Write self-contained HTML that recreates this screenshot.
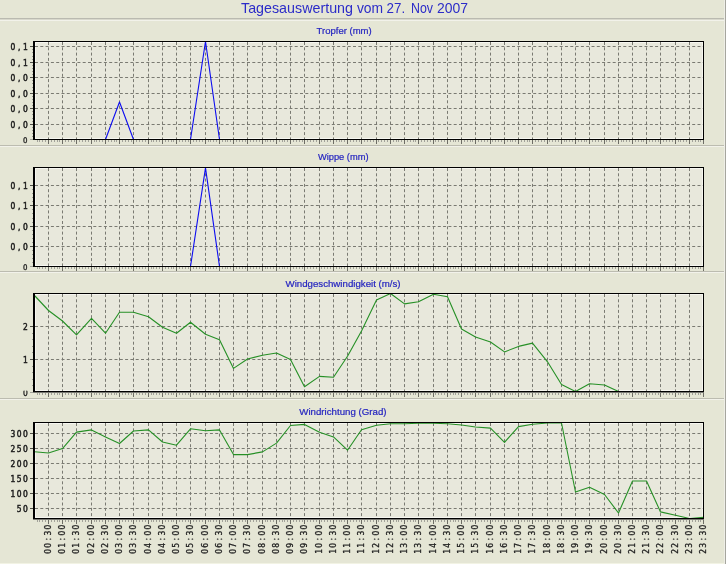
<!DOCTYPE html>
<html><head><meta charset="utf-8"><style>
html,body{margin:0;padding:0;background:#e5e6d5;}
svg{display:block;}
</style></head><body>
<svg width="726" height="564" viewBox="0 0 726 564" shape-rendering="crispEdges">
<defs>
</defs>
<rect x="0" y="0" width="726" height="564" fill="#e5e6d5"/>
<text y="12.9" font-family="'Liberation Sans', Arial, sans-serif" font-size="14.6" fill="#2c2cc8"><tspan x="241" textLength="112" lengthAdjust="spacingAndGlyphs">Tagesauswertung</tspan> <tspan x="356.9" textLength="26.2" lengthAdjust="spacingAndGlyphs">vom</tspan> <tspan x="386.6" textLength="18.6" lengthAdjust="spacingAndGlyphs">27.</tspan> <tspan x="411" textLength="22" lengthAdjust="spacingAndGlyphs">Nov</tspan> <tspan x="437" textLength="31" lengthAdjust="spacingAndGlyphs">2007</tspan></text>
<rect x="0" y="18" width="724" height="1" fill="#babab0"/>
<rect x="0" y="19" width="724" height="1" fill="#d8d8cc"/>
<rect x="0" y="20" width="724" height="1" fill="#f2f2ea"/>
<rect x="0" y="563" width="724" height="1" fill="#f2f3e4"/>
<rect x="724" y="0" width="1" height="564" fill="#eeeee6"/>
<rect x="725" y="0" width="1" height="564" fill="#a6a69e"/>
<rect x="35" y="42" width="668" height="97" fill="#e8e8dc"/>
<rect x="35" y="42" width="668" height="1" fill="#f6f6f0"/>
<rect x="35" y="42" width="1" height="97" fill="#f6f6f0"/>
<rect x="702" y="42" width="1" height="97" fill="#f6f6f0"/>
<rect x="35" y="138" width="668" height="1" fill="#f6f6f0"/>
<text x="316.6" y="33.8" textLength="55.1" lengthAdjust="spacingAndGlyphs" font-family="'Liberation Sans', Arial, sans-serif" font-size="9.5" fill="#2424c0" stroke="#2424c0" stroke-width="0.2">Tropfer (mm)</text>
<path d="M48.5 42V139M62.5 42V139M76.5 42V139M91.5 42V139M105.5 42V139M119.5 42V139M133.5 42V139M148.5 42V139M162.5 42V139M176.5 42V139M190.5 42V139M205.5 42V139M219.5 42V139M233.5 42V139M247.5 42V139M262.5 42V139M276.5 42V139M290.5 42V139M304.5 42V139M319.5 42V139M333.5 42V139M347.5 42V139M361.5 42V139M376.5 42V139M390.5 42V139M404.5 42V139M418.5 42V139M433.5 42V139M447.5 42V139M461.5 42V139M475.5 42V139M490.5 42V139M504.5 42V139M518.5 42V139M532.5 42V139M547.5 42V139M561.5 42V139M575.5 42V139M589.5 42V139M604.5 42V139M618.5 42V139M632.5 42V139M646.5 42V139M660.5 42V139M675.5 42V139M689.5 42V139M35 46.5H703M35 62.5H703M35 77.5H703M35 93.5H703M35 108.5H703M35 124.5H703" stroke="#7a7a72" stroke-width="1" stroke-dasharray="3,2.3" fill="none" shape-rendering="auto"/>
<rect x="30" y="46" width="3" height="1" fill="#505048"/>
<text x="12.90 19.10 25.30" y="49.90" text-anchor="middle" font-family="'DejaVu Sans Condensed', 'DejaVu Sans', sans-serif" font-size="8.4" fill="#1c1c1c" stroke="#1c1c1c" stroke-width="0.45" >0,1</text>
<rect x="30" y="62" width="3" height="1" fill="#505048"/>
<text x="12.90 19.10 25.30" y="65.90" text-anchor="middle" font-family="'DejaVu Sans Condensed', 'DejaVu Sans', sans-serif" font-size="8.4" fill="#1c1c1c" stroke="#1c1c1c" stroke-width="0.45" >0,1</text>
<rect x="30" y="77" width="3" height="1" fill="#505048"/>
<text x="12.90 19.10 25.30" y="80.90" text-anchor="middle" font-family="'DejaVu Sans Condensed', 'DejaVu Sans', sans-serif" font-size="8.4" fill="#1c1c1c" stroke="#1c1c1c" stroke-width="0.45" >0,0</text>
<rect x="30" y="93" width="3" height="1" fill="#505048"/>
<text x="12.90 19.10 25.30" y="96.90" text-anchor="middle" font-family="'DejaVu Sans Condensed', 'DejaVu Sans', sans-serif" font-size="8.4" fill="#1c1c1c" stroke="#1c1c1c" stroke-width="0.45" >0,0</text>
<rect x="30" y="108" width="3" height="1" fill="#505048"/>
<text x="12.90 19.10 25.30" y="111.90" text-anchor="middle" font-family="'DejaVu Sans Condensed', 'DejaVu Sans', sans-serif" font-size="8.4" fill="#1c1c1c" stroke="#1c1c1c" stroke-width="0.45" >0,0</text>
<rect x="30" y="124" width="3" height="1" fill="#505048"/>
<text x="12.90 19.10 25.30" y="127.90" text-anchor="middle" font-family="'DejaVu Sans Condensed', 'DejaVu Sans', sans-serif" font-size="8.4" fill="#1c1c1c" stroke="#1c1c1c" stroke-width="0.45" >0,0</text>
<rect x="30" y="139" width="3" height="1" fill="#a0a098"/>
<text x="25.30" y="142.80" text-anchor="middle" font-family="'DejaVu Sans Condensed', 'DejaVu Sans', sans-serif" font-size="7.8" fill="#222222" stroke="#222222" stroke-width="0.32" >0</text>
<rect x="32" y="49" width="1" height="1" fill="#9c9c94"/>
<rect x="32" y="52" width="1" height="1" fill="#9c9c94"/>
<rect x="32" y="56" width="1" height="1" fill="#9c9c94"/>
<rect x="32" y="59" width="1" height="1" fill="#9c9c94"/>
<rect x="32" y="65" width="1" height="1" fill="#9c9c94"/>
<rect x="32" y="68" width="1" height="1" fill="#9c9c94"/>
<rect x="32" y="71" width="1" height="1" fill="#9c9c94"/>
<rect x="32" y="74" width="1" height="1" fill="#9c9c94"/>
<rect x="32" y="80" width="1" height="1" fill="#9c9c94"/>
<rect x="32" y="83" width="1" height="1" fill="#9c9c94"/>
<rect x="32" y="87" width="1" height="1" fill="#9c9c94"/>
<rect x="32" y="90" width="1" height="1" fill="#9c9c94"/>
<rect x="32" y="96" width="1" height="1" fill="#9c9c94"/>
<rect x="32" y="99" width="1" height="1" fill="#9c9c94"/>
<rect x="32" y="102" width="1" height="1" fill="#9c9c94"/>
<rect x="32" y="105" width="1" height="1" fill="#9c9c94"/>
<rect x="32" y="111" width="1" height="1" fill="#9c9c94"/>
<rect x="32" y="114" width="1" height="1" fill="#9c9c94"/>
<rect x="32" y="118" width="1" height="1" fill="#9c9c94"/>
<rect x="32" y="121" width="1" height="1" fill="#9c9c94"/>
<rect x="32" y="127" width="1" height="1" fill="#9c9c94"/>
<rect x="32" y="130" width="1" height="1" fill="#9c9c94"/>
<rect x="32" y="133" width="1" height="1" fill="#9c9c94"/>
<rect x="32" y="136" width="1" height="1" fill="#9c9c94"/>
<rect x="37" y="140" width="1" height="2" fill="#a2a29a"/>
<rect x="39" y="140" width="1" height="2" fill="#a2a29a"/>
<rect x="42" y="140" width="1" height="2" fill="#a2a29a"/>
<rect x="45" y="140" width="1" height="2" fill="#a2a29a"/>
<rect x="48" y="140" width="1" height="4" fill="#6e6e66"/>
<rect x="51" y="140" width="1" height="2" fill="#a2a29a"/>
<rect x="54" y="140" width="1" height="2" fill="#a2a29a"/>
<rect x="57" y="140" width="1" height="2" fill="#a2a29a"/>
<rect x="59" y="140" width="1" height="2" fill="#a2a29a"/>
<rect x="62" y="140" width="1" height="4" fill="#6e6e66"/>
<rect x="65" y="140" width="1" height="2" fill="#a2a29a"/>
<rect x="68" y="140" width="1" height="2" fill="#a2a29a"/>
<rect x="71" y="140" width="1" height="2" fill="#a2a29a"/>
<rect x="74" y="140" width="1" height="2" fill="#a2a29a"/>
<rect x="76" y="140" width="1" height="4" fill="#6e6e66"/>
<rect x="79" y="140" width="1" height="2" fill="#a2a29a"/>
<rect x="82" y="140" width="1" height="2" fill="#a2a29a"/>
<rect x="85" y="140" width="1" height="2" fill="#a2a29a"/>
<rect x="88" y="140" width="1" height="2" fill="#a2a29a"/>
<rect x="91" y="140" width="1" height="4" fill="#6e6e66"/>
<rect x="94" y="140" width="1" height="2" fill="#a2a29a"/>
<rect x="96" y="140" width="1" height="2" fill="#a2a29a"/>
<rect x="99" y="140" width="1" height="2" fill="#a2a29a"/>
<rect x="102" y="140" width="1" height="2" fill="#a2a29a"/>
<rect x="105" y="140" width="1" height="4" fill="#6e6e66"/>
<rect x="108" y="140" width="1" height="2" fill="#a2a29a"/>
<rect x="111" y="140" width="1" height="2" fill="#a2a29a"/>
<rect x="114" y="140" width="1" height="2" fill="#a2a29a"/>
<rect x="116" y="140" width="1" height="2" fill="#a2a29a"/>
<rect x="119" y="140" width="1" height="4" fill="#6e6e66"/>
<rect x="122" y="140" width="1" height="2" fill="#a2a29a"/>
<rect x="125" y="140" width="1" height="2" fill="#a2a29a"/>
<rect x="128" y="140" width="1" height="2" fill="#a2a29a"/>
<rect x="131" y="140" width="1" height="2" fill="#a2a29a"/>
<rect x="133" y="140" width="1" height="4" fill="#6e6e66"/>
<rect x="136" y="140" width="1" height="2" fill="#a2a29a"/>
<rect x="139" y="140" width="1" height="2" fill="#a2a29a"/>
<rect x="142" y="140" width="1" height="2" fill="#a2a29a"/>
<rect x="145" y="140" width="1" height="2" fill="#a2a29a"/>
<rect x="148" y="140" width="1" height="4" fill="#6e6e66"/>
<rect x="151" y="140" width="1" height="2" fill="#a2a29a"/>
<rect x="153" y="140" width="1" height="2" fill="#a2a29a"/>
<rect x="156" y="140" width="1" height="2" fill="#a2a29a"/>
<rect x="159" y="140" width="1" height="2" fill="#a2a29a"/>
<rect x="162" y="140" width="1" height="4" fill="#6e6e66"/>
<rect x="165" y="140" width="1" height="2" fill="#a2a29a"/>
<rect x="168" y="140" width="1" height="2" fill="#a2a29a"/>
<rect x="171" y="140" width="1" height="2" fill="#a2a29a"/>
<rect x="173" y="140" width="1" height="2" fill="#a2a29a"/>
<rect x="176" y="140" width="1" height="4" fill="#6e6e66"/>
<rect x="179" y="140" width="1" height="2" fill="#a2a29a"/>
<rect x="182" y="140" width="1" height="2" fill="#a2a29a"/>
<rect x="185" y="140" width="1" height="2" fill="#a2a29a"/>
<rect x="188" y="140" width="1" height="2" fill="#a2a29a"/>
<rect x="190" y="140" width="1" height="4" fill="#6e6e66"/>
<rect x="193" y="140" width="1" height="2" fill="#a2a29a"/>
<rect x="196" y="140" width="1" height="2" fill="#a2a29a"/>
<rect x="199" y="140" width="1" height="2" fill="#a2a29a"/>
<rect x="202" y="140" width="1" height="2" fill="#a2a29a"/>
<rect x="205" y="140" width="1" height="4" fill="#6e6e66"/>
<rect x="208" y="140" width="1" height="2" fill="#a2a29a"/>
<rect x="210" y="140" width="1" height="2" fill="#a2a29a"/>
<rect x="213" y="140" width="1" height="2" fill="#a2a29a"/>
<rect x="216" y="140" width="1" height="2" fill="#a2a29a"/>
<rect x="219" y="140" width="1" height="4" fill="#6e6e66"/>
<rect x="222" y="140" width="1" height="2" fill="#a2a29a"/>
<rect x="225" y="140" width="1" height="2" fill="#a2a29a"/>
<rect x="227" y="140" width="1" height="2" fill="#a2a29a"/>
<rect x="230" y="140" width="1" height="2" fill="#a2a29a"/>
<rect x="233" y="140" width="1" height="4" fill="#6e6e66"/>
<rect x="236" y="140" width="1" height="2" fill="#a2a29a"/>
<rect x="239" y="140" width="1" height="2" fill="#a2a29a"/>
<rect x="242" y="140" width="1" height="2" fill="#a2a29a"/>
<rect x="245" y="140" width="1" height="2" fill="#a2a29a"/>
<rect x="247" y="140" width="1" height="4" fill="#6e6e66"/>
<rect x="250" y="140" width="1" height="2" fill="#a2a29a"/>
<rect x="253" y="140" width="1" height="2" fill="#a2a29a"/>
<rect x="256" y="140" width="1" height="2" fill="#a2a29a"/>
<rect x="259" y="140" width="1" height="2" fill="#a2a29a"/>
<rect x="262" y="140" width="1" height="4" fill="#6e6e66"/>
<rect x="265" y="140" width="1" height="2" fill="#a2a29a"/>
<rect x="267" y="140" width="1" height="2" fill="#a2a29a"/>
<rect x="270" y="140" width="1" height="2" fill="#a2a29a"/>
<rect x="273" y="140" width="1" height="2" fill="#a2a29a"/>
<rect x="276" y="140" width="1" height="4" fill="#6e6e66"/>
<rect x="279" y="140" width="1" height="2" fill="#a2a29a"/>
<rect x="282" y="140" width="1" height="2" fill="#a2a29a"/>
<rect x="284" y="140" width="1" height="2" fill="#a2a29a"/>
<rect x="287" y="140" width="1" height="2" fill="#a2a29a"/>
<rect x="290" y="140" width="1" height="4" fill="#6e6e66"/>
<rect x="293" y="140" width="1" height="2" fill="#a2a29a"/>
<rect x="296" y="140" width="1" height="2" fill="#a2a29a"/>
<rect x="299" y="140" width="1" height="2" fill="#a2a29a"/>
<rect x="302" y="140" width="1" height="2" fill="#a2a29a"/>
<rect x="304" y="140" width="1" height="4" fill="#6e6e66"/>
<rect x="307" y="140" width="1" height="2" fill="#a2a29a"/>
<rect x="310" y="140" width="1" height="2" fill="#a2a29a"/>
<rect x="313" y="140" width="1" height="2" fill="#a2a29a"/>
<rect x="316" y="140" width="1" height="2" fill="#a2a29a"/>
<rect x="319" y="140" width="1" height="4" fill="#6e6e66"/>
<rect x="321" y="140" width="1" height="2" fill="#a2a29a"/>
<rect x="324" y="140" width="1" height="2" fill="#a2a29a"/>
<rect x="327" y="140" width="1" height="2" fill="#a2a29a"/>
<rect x="330" y="140" width="1" height="2" fill="#a2a29a"/>
<rect x="333" y="140" width="1" height="4" fill="#6e6e66"/>
<rect x="336" y="140" width="1" height="2" fill="#a2a29a"/>
<rect x="339" y="140" width="1" height="2" fill="#a2a29a"/>
<rect x="341" y="140" width="1" height="2" fill="#a2a29a"/>
<rect x="344" y="140" width="1" height="2" fill="#a2a29a"/>
<rect x="347" y="140" width="1" height="4" fill="#6e6e66"/>
<rect x="350" y="140" width="1" height="2" fill="#a2a29a"/>
<rect x="353" y="140" width="1" height="2" fill="#a2a29a"/>
<rect x="356" y="140" width="1" height="2" fill="#a2a29a"/>
<rect x="359" y="140" width="1" height="2" fill="#a2a29a"/>
<rect x="361" y="140" width="1" height="4" fill="#6e6e66"/>
<rect x="364" y="140" width="1" height="2" fill="#a2a29a"/>
<rect x="367" y="140" width="1" height="2" fill="#a2a29a"/>
<rect x="370" y="140" width="1" height="2" fill="#a2a29a"/>
<rect x="373" y="140" width="1" height="2" fill="#a2a29a"/>
<rect x="376" y="140" width="1" height="4" fill="#6e6e66"/>
<rect x="378" y="140" width="1" height="2" fill="#a2a29a"/>
<rect x="381" y="140" width="1" height="2" fill="#a2a29a"/>
<rect x="384" y="140" width="1" height="2" fill="#a2a29a"/>
<rect x="387" y="140" width="1" height="2" fill="#a2a29a"/>
<rect x="390" y="140" width="1" height="4" fill="#6e6e66"/>
<rect x="393" y="140" width="1" height="2" fill="#a2a29a"/>
<rect x="396" y="140" width="1" height="2" fill="#a2a29a"/>
<rect x="398" y="140" width="1" height="2" fill="#a2a29a"/>
<rect x="401" y="140" width="1" height="2" fill="#a2a29a"/>
<rect x="404" y="140" width="1" height="4" fill="#6e6e66"/>
<rect x="407" y="140" width="1" height="2" fill="#a2a29a"/>
<rect x="410" y="140" width="1" height="2" fill="#a2a29a"/>
<rect x="413" y="140" width="1" height="2" fill="#a2a29a"/>
<rect x="415" y="140" width="1" height="2" fill="#a2a29a"/>
<rect x="418" y="140" width="1" height="4" fill="#6e6e66"/>
<rect x="421" y="140" width="1" height="2" fill="#a2a29a"/>
<rect x="424" y="140" width="1" height="2" fill="#a2a29a"/>
<rect x="427" y="140" width="1" height="2" fill="#a2a29a"/>
<rect x="430" y="140" width="1" height="2" fill="#a2a29a"/>
<rect x="433" y="140" width="1" height="4" fill="#6e6e66"/>
<rect x="435" y="140" width="1" height="2" fill="#a2a29a"/>
<rect x="438" y="140" width="1" height="2" fill="#a2a29a"/>
<rect x="441" y="140" width="1" height="2" fill="#a2a29a"/>
<rect x="444" y="140" width="1" height="2" fill="#a2a29a"/>
<rect x="447" y="140" width="1" height="4" fill="#6e6e66"/>
<rect x="450" y="140" width="1" height="2" fill="#a2a29a"/>
<rect x="453" y="140" width="1" height="2" fill="#a2a29a"/>
<rect x="455" y="140" width="1" height="2" fill="#a2a29a"/>
<rect x="458" y="140" width="1" height="2" fill="#a2a29a"/>
<rect x="461" y="140" width="1" height="4" fill="#6e6e66"/>
<rect x="464" y="140" width="1" height="2" fill="#a2a29a"/>
<rect x="467" y="140" width="1" height="2" fill="#a2a29a"/>
<rect x="470" y="140" width="1" height="2" fill="#a2a29a"/>
<rect x="472" y="140" width="1" height="2" fill="#a2a29a"/>
<rect x="475" y="140" width="1" height="4" fill="#6e6e66"/>
<rect x="478" y="140" width="1" height="2" fill="#a2a29a"/>
<rect x="481" y="140" width="1" height="2" fill="#a2a29a"/>
<rect x="484" y="140" width="1" height="2" fill="#a2a29a"/>
<rect x="487" y="140" width="1" height="2" fill="#a2a29a"/>
<rect x="490" y="140" width="1" height="4" fill="#6e6e66"/>
<rect x="492" y="140" width="1" height="2" fill="#a2a29a"/>
<rect x="495" y="140" width="1" height="2" fill="#a2a29a"/>
<rect x="498" y="140" width="1" height="2" fill="#a2a29a"/>
<rect x="501" y="140" width="1" height="2" fill="#a2a29a"/>
<rect x="504" y="140" width="1" height="4" fill="#6e6e66"/>
<rect x="507" y="140" width="1" height="2" fill="#a2a29a"/>
<rect x="510" y="140" width="1" height="2" fill="#a2a29a"/>
<rect x="512" y="140" width="1" height="2" fill="#a2a29a"/>
<rect x="515" y="140" width="1" height="2" fill="#a2a29a"/>
<rect x="518" y="140" width="1" height="4" fill="#6e6e66"/>
<rect x="521" y="140" width="1" height="2" fill="#a2a29a"/>
<rect x="524" y="140" width="1" height="2" fill="#a2a29a"/>
<rect x="527" y="140" width="1" height="2" fill="#a2a29a"/>
<rect x="529" y="140" width="1" height="2" fill="#a2a29a"/>
<rect x="532" y="140" width="1" height="4" fill="#6e6e66"/>
<rect x="535" y="140" width="1" height="2" fill="#a2a29a"/>
<rect x="538" y="140" width="1" height="2" fill="#a2a29a"/>
<rect x="541" y="140" width="1" height="2" fill="#a2a29a"/>
<rect x="544" y="140" width="1" height="2" fill="#a2a29a"/>
<rect x="547" y="140" width="1" height="4" fill="#6e6e66"/>
<rect x="549" y="140" width="1" height="2" fill="#a2a29a"/>
<rect x="552" y="140" width="1" height="2" fill="#a2a29a"/>
<rect x="555" y="140" width="1" height="2" fill="#a2a29a"/>
<rect x="558" y="140" width="1" height="2" fill="#a2a29a"/>
<rect x="561" y="140" width="1" height="4" fill="#6e6e66"/>
<rect x="564" y="140" width="1" height="2" fill="#a2a29a"/>
<rect x="566" y="140" width="1" height="2" fill="#a2a29a"/>
<rect x="569" y="140" width="1" height="2" fill="#a2a29a"/>
<rect x="572" y="140" width="1" height="2" fill="#a2a29a"/>
<rect x="575" y="140" width="1" height="4" fill="#6e6e66"/>
<rect x="578" y="140" width="1" height="2" fill="#a2a29a"/>
<rect x="581" y="140" width="1" height="2" fill="#a2a29a"/>
<rect x="584" y="140" width="1" height="2" fill="#a2a29a"/>
<rect x="586" y="140" width="1" height="2" fill="#a2a29a"/>
<rect x="589" y="140" width="1" height="4" fill="#6e6e66"/>
<rect x="592" y="140" width="1" height="2" fill="#a2a29a"/>
<rect x="595" y="140" width="1" height="2" fill="#a2a29a"/>
<rect x="598" y="140" width="1" height="2" fill="#a2a29a"/>
<rect x="601" y="140" width="1" height="2" fill="#a2a29a"/>
<rect x="604" y="140" width="1" height="4" fill="#6e6e66"/>
<rect x="606" y="140" width="1" height="2" fill="#a2a29a"/>
<rect x="609" y="140" width="1" height="2" fill="#a2a29a"/>
<rect x="612" y="140" width="1" height="2" fill="#a2a29a"/>
<rect x="615" y="140" width="1" height="2" fill="#a2a29a"/>
<rect x="618" y="140" width="1" height="4" fill="#6e6e66"/>
<rect x="621" y="140" width="1" height="2" fill="#a2a29a"/>
<rect x="623" y="140" width="1" height="2" fill="#a2a29a"/>
<rect x="626" y="140" width="1" height="2" fill="#a2a29a"/>
<rect x="629" y="140" width="1" height="2" fill="#a2a29a"/>
<rect x="632" y="140" width="1" height="4" fill="#6e6e66"/>
<rect x="635" y="140" width="1" height="2" fill="#a2a29a"/>
<rect x="638" y="140" width="1" height="2" fill="#a2a29a"/>
<rect x="641" y="140" width="1" height="2" fill="#a2a29a"/>
<rect x="643" y="140" width="1" height="2" fill="#a2a29a"/>
<rect x="646" y="140" width="1" height="4" fill="#6e6e66"/>
<rect x="649" y="140" width="1" height="2" fill="#a2a29a"/>
<rect x="652" y="140" width="1" height="2" fill="#a2a29a"/>
<rect x="655" y="140" width="1" height="2" fill="#a2a29a"/>
<rect x="658" y="140" width="1" height="2" fill="#a2a29a"/>
<rect x="660" y="140" width="1" height="4" fill="#6e6e66"/>
<rect x="663" y="140" width="1" height="2" fill="#a2a29a"/>
<rect x="666" y="140" width="1" height="2" fill="#a2a29a"/>
<rect x="669" y="140" width="1" height="2" fill="#a2a29a"/>
<rect x="672" y="140" width="1" height="2" fill="#a2a29a"/>
<rect x="675" y="140" width="1" height="4" fill="#6e6e66"/>
<rect x="678" y="140" width="1" height="2" fill="#a2a29a"/>
<rect x="680" y="140" width="1" height="2" fill="#a2a29a"/>
<rect x="683" y="140" width="1" height="2" fill="#a2a29a"/>
<rect x="686" y="140" width="1" height="2" fill="#a2a29a"/>
<rect x="689" y="140" width="1" height="4" fill="#6e6e66"/>
<rect x="692" y="140" width="1" height="2" fill="#a2a29a"/>
<rect x="695" y="140" width="1" height="2" fill="#a2a29a"/>
<rect x="698" y="140" width="1" height="2" fill="#a2a29a"/>
<rect x="700" y="140" width="1" height="2" fill="#a2a29a"/>
<rect x="703" y="140" width="1" height="4" fill="#6e6e66"/>
<polyline points="34.50,139.50 105.50,139.50 119.50,102.00 133.50,139.50 190.50,139.50 205.50,41.50 219.50,139.50 703.50,139.50" fill="none" stroke="#0c0cf0" stroke-width="1.1" stroke-linejoin="round" shape-rendering="auto"/>
<rect x="33" y="41" width="2" height="99" fill="#000"/>
<rect x="33" y="139" width="671" height="1" fill="#000"/>
<rect x="33" y="41" width="671" height="1" fill="#000"/>
<rect x="703" y="41" width="1" height="99" fill="#000"/>
<rect x="35" y="168" width="668" height="98" fill="#e8e8dc"/>
<rect x="35" y="168" width="668" height="1" fill="#f6f6f0"/>
<rect x="35" y="168" width="1" height="98" fill="#f6f6f0"/>
<rect x="702" y="168" width="1" height="98" fill="#f6f6f0"/>
<rect x="35" y="265" width="668" height="1" fill="#f6f6f0"/>
<text x="317.9" y="159.8" textLength="50.6" lengthAdjust="spacingAndGlyphs" font-family="'Liberation Sans', Arial, sans-serif" font-size="9.5" fill="#2424c0" stroke="#2424c0" stroke-width="0.2">Wippe (mm)</text>
<path d="M48.5 168V266M62.5 168V266M76.5 168V266M91.5 168V266M105.5 168V266M119.5 168V266M133.5 168V266M148.5 168V266M162.5 168V266M176.5 168V266M190.5 168V266M205.5 168V266M219.5 168V266M233.5 168V266M247.5 168V266M262.5 168V266M276.5 168V266M290.5 168V266M304.5 168V266M319.5 168V266M333.5 168V266M347.5 168V266M361.5 168V266M376.5 168V266M390.5 168V266M404.5 168V266M418.5 168V266M433.5 168V266M447.5 168V266M461.5 168V266M475.5 168V266M490.5 168V266M504.5 168V266M518.5 168V266M532.5 168V266M547.5 168V266M561.5 168V266M575.5 168V266M589.5 168V266M604.5 168V266M618.5 168V266M632.5 168V266M646.5 168V266M660.5 168V266M675.5 168V266M689.5 168V266M35 185.5H703M35 205.5H703M35 226.5H703M35 246.5H703" stroke="#7a7a72" stroke-width="1" stroke-dasharray="3,2.3" fill="none" shape-rendering="auto"/>
<rect x="30" y="185" width="3" height="1" fill="#505048"/>
<text x="12.90 19.10 25.30" y="188.90" text-anchor="middle" font-family="'DejaVu Sans Condensed', 'DejaVu Sans', sans-serif" font-size="8.4" fill="#1c1c1c" stroke="#1c1c1c" stroke-width="0.45" >0,1</text>
<rect x="30" y="205" width="3" height="1" fill="#505048"/>
<text x="12.90 19.10 25.30" y="208.90" text-anchor="middle" font-family="'DejaVu Sans Condensed', 'DejaVu Sans', sans-serif" font-size="8.4" fill="#1c1c1c" stroke="#1c1c1c" stroke-width="0.45" >0,1</text>
<rect x="30" y="226" width="3" height="1" fill="#505048"/>
<text x="12.90 19.10 25.30" y="229.90" text-anchor="middle" font-family="'DejaVu Sans Condensed', 'DejaVu Sans', sans-serif" font-size="8.4" fill="#1c1c1c" stroke="#1c1c1c" stroke-width="0.45" >0,0</text>
<rect x="30" y="246" width="3" height="1" fill="#505048"/>
<text x="12.90 19.10 25.30" y="249.90" text-anchor="middle" font-family="'DejaVu Sans Condensed', 'DejaVu Sans', sans-serif" font-size="8.4" fill="#1c1c1c" stroke="#1c1c1c" stroke-width="0.45" >0,0</text>
<rect x="30" y="266" width="3" height="1" fill="#a0a098"/>
<text x="25.30" y="269.80" text-anchor="middle" font-family="'DejaVu Sans Condensed', 'DejaVu Sans', sans-serif" font-size="7.8" fill="#222222" stroke="#222222" stroke-width="0.32" >0</text>
<rect x="32" y="189" width="1" height="1" fill="#9c9c94"/>
<rect x="32" y="193" width="1" height="1" fill="#9c9c94"/>
<rect x="32" y="197" width="1" height="1" fill="#9c9c94"/>
<rect x="32" y="201" width="1" height="1" fill="#9c9c94"/>
<rect x="32" y="209" width="1" height="1" fill="#9c9c94"/>
<rect x="32" y="213" width="1" height="1" fill="#9c9c94"/>
<rect x="32" y="218" width="1" height="1" fill="#9c9c94"/>
<rect x="32" y="222" width="1" height="1" fill="#9c9c94"/>
<rect x="32" y="230" width="1" height="1" fill="#9c9c94"/>
<rect x="32" y="234" width="1" height="1" fill="#9c9c94"/>
<rect x="32" y="238" width="1" height="1" fill="#9c9c94"/>
<rect x="32" y="242" width="1" height="1" fill="#9c9c94"/>
<rect x="32" y="250" width="1" height="1" fill="#9c9c94"/>
<rect x="32" y="254" width="1" height="1" fill="#9c9c94"/>
<rect x="32" y="258" width="1" height="1" fill="#9c9c94"/>
<rect x="32" y="262" width="1" height="1" fill="#9c9c94"/>
<rect x="37" y="267" width="1" height="2" fill="#a2a29a"/>
<rect x="39" y="267" width="1" height="2" fill="#a2a29a"/>
<rect x="42" y="267" width="1" height="2" fill="#a2a29a"/>
<rect x="45" y="267" width="1" height="2" fill="#a2a29a"/>
<rect x="48" y="267" width="1" height="4" fill="#6e6e66"/>
<rect x="51" y="267" width="1" height="2" fill="#a2a29a"/>
<rect x="54" y="267" width="1" height="2" fill="#a2a29a"/>
<rect x="57" y="267" width="1" height="2" fill="#a2a29a"/>
<rect x="59" y="267" width="1" height="2" fill="#a2a29a"/>
<rect x="62" y="267" width="1" height="4" fill="#6e6e66"/>
<rect x="65" y="267" width="1" height="2" fill="#a2a29a"/>
<rect x="68" y="267" width="1" height="2" fill="#a2a29a"/>
<rect x="71" y="267" width="1" height="2" fill="#a2a29a"/>
<rect x="74" y="267" width="1" height="2" fill="#a2a29a"/>
<rect x="76" y="267" width="1" height="4" fill="#6e6e66"/>
<rect x="79" y="267" width="1" height="2" fill="#a2a29a"/>
<rect x="82" y="267" width="1" height="2" fill="#a2a29a"/>
<rect x="85" y="267" width="1" height="2" fill="#a2a29a"/>
<rect x="88" y="267" width="1" height="2" fill="#a2a29a"/>
<rect x="91" y="267" width="1" height="4" fill="#6e6e66"/>
<rect x="94" y="267" width="1" height="2" fill="#a2a29a"/>
<rect x="96" y="267" width="1" height="2" fill="#a2a29a"/>
<rect x="99" y="267" width="1" height="2" fill="#a2a29a"/>
<rect x="102" y="267" width="1" height="2" fill="#a2a29a"/>
<rect x="105" y="267" width="1" height="4" fill="#6e6e66"/>
<rect x="108" y="267" width="1" height="2" fill="#a2a29a"/>
<rect x="111" y="267" width="1" height="2" fill="#a2a29a"/>
<rect x="114" y="267" width="1" height="2" fill="#a2a29a"/>
<rect x="116" y="267" width="1" height="2" fill="#a2a29a"/>
<rect x="119" y="267" width="1" height="4" fill="#6e6e66"/>
<rect x="122" y="267" width="1" height="2" fill="#a2a29a"/>
<rect x="125" y="267" width="1" height="2" fill="#a2a29a"/>
<rect x="128" y="267" width="1" height="2" fill="#a2a29a"/>
<rect x="131" y="267" width="1" height="2" fill="#a2a29a"/>
<rect x="133" y="267" width="1" height="4" fill="#6e6e66"/>
<rect x="136" y="267" width="1" height="2" fill="#a2a29a"/>
<rect x="139" y="267" width="1" height="2" fill="#a2a29a"/>
<rect x="142" y="267" width="1" height="2" fill="#a2a29a"/>
<rect x="145" y="267" width="1" height="2" fill="#a2a29a"/>
<rect x="148" y="267" width="1" height="4" fill="#6e6e66"/>
<rect x="151" y="267" width="1" height="2" fill="#a2a29a"/>
<rect x="153" y="267" width="1" height="2" fill="#a2a29a"/>
<rect x="156" y="267" width="1" height="2" fill="#a2a29a"/>
<rect x="159" y="267" width="1" height="2" fill="#a2a29a"/>
<rect x="162" y="267" width="1" height="4" fill="#6e6e66"/>
<rect x="165" y="267" width="1" height="2" fill="#a2a29a"/>
<rect x="168" y="267" width="1" height="2" fill="#a2a29a"/>
<rect x="171" y="267" width="1" height="2" fill="#a2a29a"/>
<rect x="173" y="267" width="1" height="2" fill="#a2a29a"/>
<rect x="176" y="267" width="1" height="4" fill="#6e6e66"/>
<rect x="179" y="267" width="1" height="2" fill="#a2a29a"/>
<rect x="182" y="267" width="1" height="2" fill="#a2a29a"/>
<rect x="185" y="267" width="1" height="2" fill="#a2a29a"/>
<rect x="188" y="267" width="1" height="2" fill="#a2a29a"/>
<rect x="190" y="267" width="1" height="4" fill="#6e6e66"/>
<rect x="193" y="267" width="1" height="2" fill="#a2a29a"/>
<rect x="196" y="267" width="1" height="2" fill="#a2a29a"/>
<rect x="199" y="267" width="1" height="2" fill="#a2a29a"/>
<rect x="202" y="267" width="1" height="2" fill="#a2a29a"/>
<rect x="205" y="267" width="1" height="4" fill="#6e6e66"/>
<rect x="208" y="267" width="1" height="2" fill="#a2a29a"/>
<rect x="210" y="267" width="1" height="2" fill="#a2a29a"/>
<rect x="213" y="267" width="1" height="2" fill="#a2a29a"/>
<rect x="216" y="267" width="1" height="2" fill="#a2a29a"/>
<rect x="219" y="267" width="1" height="4" fill="#6e6e66"/>
<rect x="222" y="267" width="1" height="2" fill="#a2a29a"/>
<rect x="225" y="267" width="1" height="2" fill="#a2a29a"/>
<rect x="227" y="267" width="1" height="2" fill="#a2a29a"/>
<rect x="230" y="267" width="1" height="2" fill="#a2a29a"/>
<rect x="233" y="267" width="1" height="4" fill="#6e6e66"/>
<rect x="236" y="267" width="1" height="2" fill="#a2a29a"/>
<rect x="239" y="267" width="1" height="2" fill="#a2a29a"/>
<rect x="242" y="267" width="1" height="2" fill="#a2a29a"/>
<rect x="245" y="267" width="1" height="2" fill="#a2a29a"/>
<rect x="247" y="267" width="1" height="4" fill="#6e6e66"/>
<rect x="250" y="267" width="1" height="2" fill="#a2a29a"/>
<rect x="253" y="267" width="1" height="2" fill="#a2a29a"/>
<rect x="256" y="267" width="1" height="2" fill="#a2a29a"/>
<rect x="259" y="267" width="1" height="2" fill="#a2a29a"/>
<rect x="262" y="267" width="1" height="4" fill="#6e6e66"/>
<rect x="265" y="267" width="1" height="2" fill="#a2a29a"/>
<rect x="267" y="267" width="1" height="2" fill="#a2a29a"/>
<rect x="270" y="267" width="1" height="2" fill="#a2a29a"/>
<rect x="273" y="267" width="1" height="2" fill="#a2a29a"/>
<rect x="276" y="267" width="1" height="4" fill="#6e6e66"/>
<rect x="279" y="267" width="1" height="2" fill="#a2a29a"/>
<rect x="282" y="267" width="1" height="2" fill="#a2a29a"/>
<rect x="284" y="267" width="1" height="2" fill="#a2a29a"/>
<rect x="287" y="267" width="1" height="2" fill="#a2a29a"/>
<rect x="290" y="267" width="1" height="4" fill="#6e6e66"/>
<rect x="293" y="267" width="1" height="2" fill="#a2a29a"/>
<rect x="296" y="267" width="1" height="2" fill="#a2a29a"/>
<rect x="299" y="267" width="1" height="2" fill="#a2a29a"/>
<rect x="302" y="267" width="1" height="2" fill="#a2a29a"/>
<rect x="304" y="267" width="1" height="4" fill="#6e6e66"/>
<rect x="307" y="267" width="1" height="2" fill="#a2a29a"/>
<rect x="310" y="267" width="1" height="2" fill="#a2a29a"/>
<rect x="313" y="267" width="1" height="2" fill="#a2a29a"/>
<rect x="316" y="267" width="1" height="2" fill="#a2a29a"/>
<rect x="319" y="267" width="1" height="4" fill="#6e6e66"/>
<rect x="321" y="267" width="1" height="2" fill="#a2a29a"/>
<rect x="324" y="267" width="1" height="2" fill="#a2a29a"/>
<rect x="327" y="267" width="1" height="2" fill="#a2a29a"/>
<rect x="330" y="267" width="1" height="2" fill="#a2a29a"/>
<rect x="333" y="267" width="1" height="4" fill="#6e6e66"/>
<rect x="336" y="267" width="1" height="2" fill="#a2a29a"/>
<rect x="339" y="267" width="1" height="2" fill="#a2a29a"/>
<rect x="341" y="267" width="1" height="2" fill="#a2a29a"/>
<rect x="344" y="267" width="1" height="2" fill="#a2a29a"/>
<rect x="347" y="267" width="1" height="4" fill="#6e6e66"/>
<rect x="350" y="267" width="1" height="2" fill="#a2a29a"/>
<rect x="353" y="267" width="1" height="2" fill="#a2a29a"/>
<rect x="356" y="267" width="1" height="2" fill="#a2a29a"/>
<rect x="359" y="267" width="1" height="2" fill="#a2a29a"/>
<rect x="361" y="267" width="1" height="4" fill="#6e6e66"/>
<rect x="364" y="267" width="1" height="2" fill="#a2a29a"/>
<rect x="367" y="267" width="1" height="2" fill="#a2a29a"/>
<rect x="370" y="267" width="1" height="2" fill="#a2a29a"/>
<rect x="373" y="267" width="1" height="2" fill="#a2a29a"/>
<rect x="376" y="267" width="1" height="4" fill="#6e6e66"/>
<rect x="378" y="267" width="1" height="2" fill="#a2a29a"/>
<rect x="381" y="267" width="1" height="2" fill="#a2a29a"/>
<rect x="384" y="267" width="1" height="2" fill="#a2a29a"/>
<rect x="387" y="267" width="1" height="2" fill="#a2a29a"/>
<rect x="390" y="267" width="1" height="4" fill="#6e6e66"/>
<rect x="393" y="267" width="1" height="2" fill="#a2a29a"/>
<rect x="396" y="267" width="1" height="2" fill="#a2a29a"/>
<rect x="398" y="267" width="1" height="2" fill="#a2a29a"/>
<rect x="401" y="267" width="1" height="2" fill="#a2a29a"/>
<rect x="404" y="267" width="1" height="4" fill="#6e6e66"/>
<rect x="407" y="267" width="1" height="2" fill="#a2a29a"/>
<rect x="410" y="267" width="1" height="2" fill="#a2a29a"/>
<rect x="413" y="267" width="1" height="2" fill="#a2a29a"/>
<rect x="415" y="267" width="1" height="2" fill="#a2a29a"/>
<rect x="418" y="267" width="1" height="4" fill="#6e6e66"/>
<rect x="421" y="267" width="1" height="2" fill="#a2a29a"/>
<rect x="424" y="267" width="1" height="2" fill="#a2a29a"/>
<rect x="427" y="267" width="1" height="2" fill="#a2a29a"/>
<rect x="430" y="267" width="1" height="2" fill="#a2a29a"/>
<rect x="433" y="267" width="1" height="4" fill="#6e6e66"/>
<rect x="435" y="267" width="1" height="2" fill="#a2a29a"/>
<rect x="438" y="267" width="1" height="2" fill="#a2a29a"/>
<rect x="441" y="267" width="1" height="2" fill="#a2a29a"/>
<rect x="444" y="267" width="1" height="2" fill="#a2a29a"/>
<rect x="447" y="267" width="1" height="4" fill="#6e6e66"/>
<rect x="450" y="267" width="1" height="2" fill="#a2a29a"/>
<rect x="453" y="267" width="1" height="2" fill="#a2a29a"/>
<rect x="455" y="267" width="1" height="2" fill="#a2a29a"/>
<rect x="458" y="267" width="1" height="2" fill="#a2a29a"/>
<rect x="461" y="267" width="1" height="4" fill="#6e6e66"/>
<rect x="464" y="267" width="1" height="2" fill="#a2a29a"/>
<rect x="467" y="267" width="1" height="2" fill="#a2a29a"/>
<rect x="470" y="267" width="1" height="2" fill="#a2a29a"/>
<rect x="472" y="267" width="1" height="2" fill="#a2a29a"/>
<rect x="475" y="267" width="1" height="4" fill="#6e6e66"/>
<rect x="478" y="267" width="1" height="2" fill="#a2a29a"/>
<rect x="481" y="267" width="1" height="2" fill="#a2a29a"/>
<rect x="484" y="267" width="1" height="2" fill="#a2a29a"/>
<rect x="487" y="267" width="1" height="2" fill="#a2a29a"/>
<rect x="490" y="267" width="1" height="4" fill="#6e6e66"/>
<rect x="492" y="267" width="1" height="2" fill="#a2a29a"/>
<rect x="495" y="267" width="1" height="2" fill="#a2a29a"/>
<rect x="498" y="267" width="1" height="2" fill="#a2a29a"/>
<rect x="501" y="267" width="1" height="2" fill="#a2a29a"/>
<rect x="504" y="267" width="1" height="4" fill="#6e6e66"/>
<rect x="507" y="267" width="1" height="2" fill="#a2a29a"/>
<rect x="510" y="267" width="1" height="2" fill="#a2a29a"/>
<rect x="512" y="267" width="1" height="2" fill="#a2a29a"/>
<rect x="515" y="267" width="1" height="2" fill="#a2a29a"/>
<rect x="518" y="267" width="1" height="4" fill="#6e6e66"/>
<rect x="521" y="267" width="1" height="2" fill="#a2a29a"/>
<rect x="524" y="267" width="1" height="2" fill="#a2a29a"/>
<rect x="527" y="267" width="1" height="2" fill="#a2a29a"/>
<rect x="529" y="267" width="1" height="2" fill="#a2a29a"/>
<rect x="532" y="267" width="1" height="4" fill="#6e6e66"/>
<rect x="535" y="267" width="1" height="2" fill="#a2a29a"/>
<rect x="538" y="267" width="1" height="2" fill="#a2a29a"/>
<rect x="541" y="267" width="1" height="2" fill="#a2a29a"/>
<rect x="544" y="267" width="1" height="2" fill="#a2a29a"/>
<rect x="547" y="267" width="1" height="4" fill="#6e6e66"/>
<rect x="549" y="267" width="1" height="2" fill="#a2a29a"/>
<rect x="552" y="267" width="1" height="2" fill="#a2a29a"/>
<rect x="555" y="267" width="1" height="2" fill="#a2a29a"/>
<rect x="558" y="267" width="1" height="2" fill="#a2a29a"/>
<rect x="561" y="267" width="1" height="4" fill="#6e6e66"/>
<rect x="564" y="267" width="1" height="2" fill="#a2a29a"/>
<rect x="566" y="267" width="1" height="2" fill="#a2a29a"/>
<rect x="569" y="267" width="1" height="2" fill="#a2a29a"/>
<rect x="572" y="267" width="1" height="2" fill="#a2a29a"/>
<rect x="575" y="267" width="1" height="4" fill="#6e6e66"/>
<rect x="578" y="267" width="1" height="2" fill="#a2a29a"/>
<rect x="581" y="267" width="1" height="2" fill="#a2a29a"/>
<rect x="584" y="267" width="1" height="2" fill="#a2a29a"/>
<rect x="586" y="267" width="1" height="2" fill="#a2a29a"/>
<rect x="589" y="267" width="1" height="4" fill="#6e6e66"/>
<rect x="592" y="267" width="1" height="2" fill="#a2a29a"/>
<rect x="595" y="267" width="1" height="2" fill="#a2a29a"/>
<rect x="598" y="267" width="1" height="2" fill="#a2a29a"/>
<rect x="601" y="267" width="1" height="2" fill="#a2a29a"/>
<rect x="604" y="267" width="1" height="4" fill="#6e6e66"/>
<rect x="606" y="267" width="1" height="2" fill="#a2a29a"/>
<rect x="609" y="267" width="1" height="2" fill="#a2a29a"/>
<rect x="612" y="267" width="1" height="2" fill="#a2a29a"/>
<rect x="615" y="267" width="1" height="2" fill="#a2a29a"/>
<rect x="618" y="267" width="1" height="4" fill="#6e6e66"/>
<rect x="621" y="267" width="1" height="2" fill="#a2a29a"/>
<rect x="623" y="267" width="1" height="2" fill="#a2a29a"/>
<rect x="626" y="267" width="1" height="2" fill="#a2a29a"/>
<rect x="629" y="267" width="1" height="2" fill="#a2a29a"/>
<rect x="632" y="267" width="1" height="4" fill="#6e6e66"/>
<rect x="635" y="267" width="1" height="2" fill="#a2a29a"/>
<rect x="638" y="267" width="1" height="2" fill="#a2a29a"/>
<rect x="641" y="267" width="1" height="2" fill="#a2a29a"/>
<rect x="643" y="267" width="1" height="2" fill="#a2a29a"/>
<rect x="646" y="267" width="1" height="4" fill="#6e6e66"/>
<rect x="649" y="267" width="1" height="2" fill="#a2a29a"/>
<rect x="652" y="267" width="1" height="2" fill="#a2a29a"/>
<rect x="655" y="267" width="1" height="2" fill="#a2a29a"/>
<rect x="658" y="267" width="1" height="2" fill="#a2a29a"/>
<rect x="660" y="267" width="1" height="4" fill="#6e6e66"/>
<rect x="663" y="267" width="1" height="2" fill="#a2a29a"/>
<rect x="666" y="267" width="1" height="2" fill="#a2a29a"/>
<rect x="669" y="267" width="1" height="2" fill="#a2a29a"/>
<rect x="672" y="267" width="1" height="2" fill="#a2a29a"/>
<rect x="675" y="267" width="1" height="4" fill="#6e6e66"/>
<rect x="678" y="267" width="1" height="2" fill="#a2a29a"/>
<rect x="680" y="267" width="1" height="2" fill="#a2a29a"/>
<rect x="683" y="267" width="1" height="2" fill="#a2a29a"/>
<rect x="686" y="267" width="1" height="2" fill="#a2a29a"/>
<rect x="689" y="267" width="1" height="4" fill="#6e6e66"/>
<rect x="692" y="267" width="1" height="2" fill="#a2a29a"/>
<rect x="695" y="267" width="1" height="2" fill="#a2a29a"/>
<rect x="698" y="267" width="1" height="2" fill="#a2a29a"/>
<rect x="700" y="267" width="1" height="2" fill="#a2a29a"/>
<rect x="703" y="267" width="1" height="4" fill="#6e6e66"/>
<polyline points="34.50,266.50 190.50,266.50 205.50,167.80 219.50,266.50 703.50,266.50" fill="none" stroke="#0c0cf0" stroke-width="1.1" stroke-linejoin="round" shape-rendering="auto"/>
<rect x="33" y="167" width="2" height="100" fill="#000"/>
<rect x="33" y="266" width="671" height="1" fill="#000"/>
<rect x="33" y="167" width="671" height="1" fill="#000"/>
<rect x="703" y="167" width="1" height="100" fill="#000"/>
<rect x="35" y="294" width="668" height="97" fill="#e8e8dc"/>
<rect x="35" y="294" width="668" height="1" fill="#f6f6f0"/>
<rect x="35" y="294" width="1" height="97" fill="#f6f6f0"/>
<rect x="702" y="294" width="1" height="97" fill="#f6f6f0"/>
<rect x="35" y="390" width="668" height="1" fill="#f6f6f0"/>
<text x="285.5" y="286.6" textLength="115.1" lengthAdjust="spacingAndGlyphs" font-family="'Liberation Sans', Arial, sans-serif" font-size="9.5" fill="#2424c0" stroke="#2424c0" stroke-width="0.2">Windgeschwindigkeit (m/s)</text>
<path d="M48.5 294V391M62.5 294V391M76.5 294V391M91.5 294V391M105.5 294V391M119.5 294V391M133.5 294V391M148.5 294V391M162.5 294V391M176.5 294V391M190.5 294V391M205.5 294V391M219.5 294V391M233.5 294V391M247.5 294V391M262.5 294V391M276.5 294V391M290.5 294V391M304.5 294V391M319.5 294V391M333.5 294V391M347.5 294V391M361.5 294V391M376.5 294V391M390.5 294V391M404.5 294V391M418.5 294V391M433.5 294V391M447.5 294V391M461.5 294V391M475.5 294V391M490.5 294V391M504.5 294V391M518.5 294V391M532.5 294V391M547.5 294V391M561.5 294V391M575.5 294V391M589.5 294V391M604.5 294V391M618.5 294V391M632.5 294V391M646.5 294V391M660.5 294V391M675.5 294V391M689.5 294V391M35 326.5H703M35 359.5H703" stroke="#7a7a72" stroke-width="1" stroke-dasharray="3,2.3" fill="none" shape-rendering="auto"/>
<rect x="30" y="326" width="3" height="1" fill="#505048"/>
<text x="25.30" y="329.90" text-anchor="middle" font-family="'DejaVu Sans Condensed', 'DejaVu Sans', sans-serif" font-size="8.4" fill="#1c1c1c" stroke="#1c1c1c" stroke-width="0.45" >2</text>
<rect x="30" y="359" width="3" height="1" fill="#505048"/>
<text x="25.30" y="362.90" text-anchor="middle" font-family="'DejaVu Sans Condensed', 'DejaVu Sans', sans-serif" font-size="8.4" fill="#1c1c1c" stroke="#1c1c1c" stroke-width="0.45" >1</text>
<rect x="30" y="392" width="3" height="1" fill="#a0a098"/>
<clipPath id="cz2"><rect x="0" y="390.7" width="33" height="8"/></clipPath>
<text x="25.30" y="395.80" text-anchor="middle" font-family="'DejaVu Sans Condensed', 'DejaVu Sans', sans-serif" font-size="8.4" fill="#222222" stroke="#222222" stroke-width="0.32" clip-path="url(#cz2)">0</text>
<rect x="32" y="333" width="1" height="1" fill="#9c9c94"/>
<rect x="32" y="339" width="1" height="1" fill="#9c9c94"/>
<rect x="32" y="346" width="1" height="1" fill="#9c9c94"/>
<rect x="32" y="352" width="1" height="1" fill="#9c9c94"/>
<rect x="32" y="366" width="1" height="1" fill="#9c9c94"/>
<rect x="32" y="372" width="1" height="1" fill="#9c9c94"/>
<rect x="32" y="379" width="1" height="1" fill="#9c9c94"/>
<rect x="32" y="385" width="1" height="1" fill="#9c9c94"/>
<rect x="37" y="393" width="1" height="2" fill="#a2a29a"/>
<rect x="39" y="393" width="1" height="2" fill="#a2a29a"/>
<rect x="42" y="393" width="1" height="2" fill="#a2a29a"/>
<rect x="45" y="393" width="1" height="2" fill="#a2a29a"/>
<rect x="48" y="393" width="1" height="4" fill="#6e6e66"/>
<rect x="51" y="393" width="1" height="2" fill="#a2a29a"/>
<rect x="54" y="393" width="1" height="2" fill="#a2a29a"/>
<rect x="57" y="393" width="1" height="2" fill="#a2a29a"/>
<rect x="59" y="393" width="1" height="2" fill="#a2a29a"/>
<rect x="62" y="393" width="1" height="4" fill="#6e6e66"/>
<rect x="65" y="393" width="1" height="2" fill="#a2a29a"/>
<rect x="68" y="393" width="1" height="2" fill="#a2a29a"/>
<rect x="71" y="393" width="1" height="2" fill="#a2a29a"/>
<rect x="74" y="393" width="1" height="2" fill="#a2a29a"/>
<rect x="76" y="393" width="1" height="4" fill="#6e6e66"/>
<rect x="79" y="393" width="1" height="2" fill="#a2a29a"/>
<rect x="82" y="393" width="1" height="2" fill="#a2a29a"/>
<rect x="85" y="393" width="1" height="2" fill="#a2a29a"/>
<rect x="88" y="393" width="1" height="2" fill="#a2a29a"/>
<rect x="91" y="393" width="1" height="4" fill="#6e6e66"/>
<rect x="94" y="393" width="1" height="2" fill="#a2a29a"/>
<rect x="96" y="393" width="1" height="2" fill="#a2a29a"/>
<rect x="99" y="393" width="1" height="2" fill="#a2a29a"/>
<rect x="102" y="393" width="1" height="2" fill="#a2a29a"/>
<rect x="105" y="393" width="1" height="4" fill="#6e6e66"/>
<rect x="108" y="393" width="1" height="2" fill="#a2a29a"/>
<rect x="111" y="393" width="1" height="2" fill="#a2a29a"/>
<rect x="114" y="393" width="1" height="2" fill="#a2a29a"/>
<rect x="116" y="393" width="1" height="2" fill="#a2a29a"/>
<rect x="119" y="393" width="1" height="4" fill="#6e6e66"/>
<rect x="122" y="393" width="1" height="2" fill="#a2a29a"/>
<rect x="125" y="393" width="1" height="2" fill="#a2a29a"/>
<rect x="128" y="393" width="1" height="2" fill="#a2a29a"/>
<rect x="131" y="393" width="1" height="2" fill="#a2a29a"/>
<rect x="133" y="393" width="1" height="4" fill="#6e6e66"/>
<rect x="136" y="393" width="1" height="2" fill="#a2a29a"/>
<rect x="139" y="393" width="1" height="2" fill="#a2a29a"/>
<rect x="142" y="393" width="1" height="2" fill="#a2a29a"/>
<rect x="145" y="393" width="1" height="2" fill="#a2a29a"/>
<rect x="148" y="393" width="1" height="4" fill="#6e6e66"/>
<rect x="151" y="393" width="1" height="2" fill="#a2a29a"/>
<rect x="153" y="393" width="1" height="2" fill="#a2a29a"/>
<rect x="156" y="393" width="1" height="2" fill="#a2a29a"/>
<rect x="159" y="393" width="1" height="2" fill="#a2a29a"/>
<rect x="162" y="393" width="1" height="4" fill="#6e6e66"/>
<rect x="165" y="393" width="1" height="2" fill="#a2a29a"/>
<rect x="168" y="393" width="1" height="2" fill="#a2a29a"/>
<rect x="171" y="393" width="1" height="2" fill="#a2a29a"/>
<rect x="173" y="393" width="1" height="2" fill="#a2a29a"/>
<rect x="176" y="393" width="1" height="4" fill="#6e6e66"/>
<rect x="179" y="393" width="1" height="2" fill="#a2a29a"/>
<rect x="182" y="393" width="1" height="2" fill="#a2a29a"/>
<rect x="185" y="393" width="1" height="2" fill="#a2a29a"/>
<rect x="188" y="393" width="1" height="2" fill="#a2a29a"/>
<rect x="190" y="393" width="1" height="4" fill="#6e6e66"/>
<rect x="193" y="393" width="1" height="2" fill="#a2a29a"/>
<rect x="196" y="393" width="1" height="2" fill="#a2a29a"/>
<rect x="199" y="393" width="1" height="2" fill="#a2a29a"/>
<rect x="202" y="393" width="1" height="2" fill="#a2a29a"/>
<rect x="205" y="393" width="1" height="4" fill="#6e6e66"/>
<rect x="208" y="393" width="1" height="2" fill="#a2a29a"/>
<rect x="210" y="393" width="1" height="2" fill="#a2a29a"/>
<rect x="213" y="393" width="1" height="2" fill="#a2a29a"/>
<rect x="216" y="393" width="1" height="2" fill="#a2a29a"/>
<rect x="219" y="393" width="1" height="4" fill="#6e6e66"/>
<rect x="222" y="393" width="1" height="2" fill="#a2a29a"/>
<rect x="225" y="393" width="1" height="2" fill="#a2a29a"/>
<rect x="227" y="393" width="1" height="2" fill="#a2a29a"/>
<rect x="230" y="393" width="1" height="2" fill="#a2a29a"/>
<rect x="233" y="393" width="1" height="4" fill="#6e6e66"/>
<rect x="236" y="393" width="1" height="2" fill="#a2a29a"/>
<rect x="239" y="393" width="1" height="2" fill="#a2a29a"/>
<rect x="242" y="393" width="1" height="2" fill="#a2a29a"/>
<rect x="245" y="393" width="1" height="2" fill="#a2a29a"/>
<rect x="247" y="393" width="1" height="4" fill="#6e6e66"/>
<rect x="250" y="393" width="1" height="2" fill="#a2a29a"/>
<rect x="253" y="393" width="1" height="2" fill="#a2a29a"/>
<rect x="256" y="393" width="1" height="2" fill="#a2a29a"/>
<rect x="259" y="393" width="1" height="2" fill="#a2a29a"/>
<rect x="262" y="393" width="1" height="4" fill="#6e6e66"/>
<rect x="265" y="393" width="1" height="2" fill="#a2a29a"/>
<rect x="267" y="393" width="1" height="2" fill="#a2a29a"/>
<rect x="270" y="393" width="1" height="2" fill="#a2a29a"/>
<rect x="273" y="393" width="1" height="2" fill="#a2a29a"/>
<rect x="276" y="393" width="1" height="4" fill="#6e6e66"/>
<rect x="279" y="393" width="1" height="2" fill="#a2a29a"/>
<rect x="282" y="393" width="1" height="2" fill="#a2a29a"/>
<rect x="284" y="393" width="1" height="2" fill="#a2a29a"/>
<rect x="287" y="393" width="1" height="2" fill="#a2a29a"/>
<rect x="290" y="393" width="1" height="4" fill="#6e6e66"/>
<rect x="293" y="393" width="1" height="2" fill="#a2a29a"/>
<rect x="296" y="393" width="1" height="2" fill="#a2a29a"/>
<rect x="299" y="393" width="1" height="2" fill="#a2a29a"/>
<rect x="302" y="393" width="1" height="2" fill="#a2a29a"/>
<rect x="304" y="393" width="1" height="4" fill="#6e6e66"/>
<rect x="307" y="393" width="1" height="2" fill="#a2a29a"/>
<rect x="310" y="393" width="1" height="2" fill="#a2a29a"/>
<rect x="313" y="393" width="1" height="2" fill="#a2a29a"/>
<rect x="316" y="393" width="1" height="2" fill="#a2a29a"/>
<rect x="319" y="393" width="1" height="4" fill="#6e6e66"/>
<rect x="321" y="393" width="1" height="2" fill="#a2a29a"/>
<rect x="324" y="393" width="1" height="2" fill="#a2a29a"/>
<rect x="327" y="393" width="1" height="2" fill="#a2a29a"/>
<rect x="330" y="393" width="1" height="2" fill="#a2a29a"/>
<rect x="333" y="393" width="1" height="4" fill="#6e6e66"/>
<rect x="336" y="393" width="1" height="2" fill="#a2a29a"/>
<rect x="339" y="393" width="1" height="2" fill="#a2a29a"/>
<rect x="341" y="393" width="1" height="2" fill="#a2a29a"/>
<rect x="344" y="393" width="1" height="2" fill="#a2a29a"/>
<rect x="347" y="393" width="1" height="4" fill="#6e6e66"/>
<rect x="350" y="393" width="1" height="2" fill="#a2a29a"/>
<rect x="353" y="393" width="1" height="2" fill="#a2a29a"/>
<rect x="356" y="393" width="1" height="2" fill="#a2a29a"/>
<rect x="359" y="393" width="1" height="2" fill="#a2a29a"/>
<rect x="361" y="393" width="1" height="4" fill="#6e6e66"/>
<rect x="364" y="393" width="1" height="2" fill="#a2a29a"/>
<rect x="367" y="393" width="1" height="2" fill="#a2a29a"/>
<rect x="370" y="393" width="1" height="2" fill="#a2a29a"/>
<rect x="373" y="393" width="1" height="2" fill="#a2a29a"/>
<rect x="376" y="393" width="1" height="4" fill="#6e6e66"/>
<rect x="378" y="393" width="1" height="2" fill="#a2a29a"/>
<rect x="381" y="393" width="1" height="2" fill="#a2a29a"/>
<rect x="384" y="393" width="1" height="2" fill="#a2a29a"/>
<rect x="387" y="393" width="1" height="2" fill="#a2a29a"/>
<rect x="390" y="393" width="1" height="4" fill="#6e6e66"/>
<rect x="393" y="393" width="1" height="2" fill="#a2a29a"/>
<rect x="396" y="393" width="1" height="2" fill="#a2a29a"/>
<rect x="398" y="393" width="1" height="2" fill="#a2a29a"/>
<rect x="401" y="393" width="1" height="2" fill="#a2a29a"/>
<rect x="404" y="393" width="1" height="4" fill="#6e6e66"/>
<rect x="407" y="393" width="1" height="2" fill="#a2a29a"/>
<rect x="410" y="393" width="1" height="2" fill="#a2a29a"/>
<rect x="413" y="393" width="1" height="2" fill="#a2a29a"/>
<rect x="415" y="393" width="1" height="2" fill="#a2a29a"/>
<rect x="418" y="393" width="1" height="4" fill="#6e6e66"/>
<rect x="421" y="393" width="1" height="2" fill="#a2a29a"/>
<rect x="424" y="393" width="1" height="2" fill="#a2a29a"/>
<rect x="427" y="393" width="1" height="2" fill="#a2a29a"/>
<rect x="430" y="393" width="1" height="2" fill="#a2a29a"/>
<rect x="433" y="393" width="1" height="4" fill="#6e6e66"/>
<rect x="435" y="393" width="1" height="2" fill="#a2a29a"/>
<rect x="438" y="393" width="1" height="2" fill="#a2a29a"/>
<rect x="441" y="393" width="1" height="2" fill="#a2a29a"/>
<rect x="444" y="393" width="1" height="2" fill="#a2a29a"/>
<rect x="447" y="393" width="1" height="4" fill="#6e6e66"/>
<rect x="450" y="393" width="1" height="2" fill="#a2a29a"/>
<rect x="453" y="393" width="1" height="2" fill="#a2a29a"/>
<rect x="455" y="393" width="1" height="2" fill="#a2a29a"/>
<rect x="458" y="393" width="1" height="2" fill="#a2a29a"/>
<rect x="461" y="393" width="1" height="4" fill="#6e6e66"/>
<rect x="464" y="393" width="1" height="2" fill="#a2a29a"/>
<rect x="467" y="393" width="1" height="2" fill="#a2a29a"/>
<rect x="470" y="393" width="1" height="2" fill="#a2a29a"/>
<rect x="472" y="393" width="1" height="2" fill="#a2a29a"/>
<rect x="475" y="393" width="1" height="4" fill="#6e6e66"/>
<rect x="478" y="393" width="1" height="2" fill="#a2a29a"/>
<rect x="481" y="393" width="1" height="2" fill="#a2a29a"/>
<rect x="484" y="393" width="1" height="2" fill="#a2a29a"/>
<rect x="487" y="393" width="1" height="2" fill="#a2a29a"/>
<rect x="490" y="393" width="1" height="4" fill="#6e6e66"/>
<rect x="492" y="393" width="1" height="2" fill="#a2a29a"/>
<rect x="495" y="393" width="1" height="2" fill="#a2a29a"/>
<rect x="498" y="393" width="1" height="2" fill="#a2a29a"/>
<rect x="501" y="393" width="1" height="2" fill="#a2a29a"/>
<rect x="504" y="393" width="1" height="4" fill="#6e6e66"/>
<rect x="507" y="393" width="1" height="2" fill="#a2a29a"/>
<rect x="510" y="393" width="1" height="2" fill="#a2a29a"/>
<rect x="512" y="393" width="1" height="2" fill="#a2a29a"/>
<rect x="515" y="393" width="1" height="2" fill="#a2a29a"/>
<rect x="518" y="393" width="1" height="4" fill="#6e6e66"/>
<rect x="521" y="393" width="1" height="2" fill="#a2a29a"/>
<rect x="524" y="393" width="1" height="2" fill="#a2a29a"/>
<rect x="527" y="393" width="1" height="2" fill="#a2a29a"/>
<rect x="529" y="393" width="1" height="2" fill="#a2a29a"/>
<rect x="532" y="393" width="1" height="4" fill="#6e6e66"/>
<rect x="535" y="393" width="1" height="2" fill="#a2a29a"/>
<rect x="538" y="393" width="1" height="2" fill="#a2a29a"/>
<rect x="541" y="393" width="1" height="2" fill="#a2a29a"/>
<rect x="544" y="393" width="1" height="2" fill="#a2a29a"/>
<rect x="547" y="393" width="1" height="4" fill="#6e6e66"/>
<rect x="549" y="393" width="1" height="2" fill="#a2a29a"/>
<rect x="552" y="393" width="1" height="2" fill="#a2a29a"/>
<rect x="555" y="393" width="1" height="2" fill="#a2a29a"/>
<rect x="558" y="393" width="1" height="2" fill="#a2a29a"/>
<rect x="561" y="393" width="1" height="4" fill="#6e6e66"/>
<rect x="564" y="393" width="1" height="2" fill="#a2a29a"/>
<rect x="566" y="393" width="1" height="2" fill="#a2a29a"/>
<rect x="569" y="393" width="1" height="2" fill="#a2a29a"/>
<rect x="572" y="393" width="1" height="2" fill="#a2a29a"/>
<rect x="575" y="393" width="1" height="4" fill="#6e6e66"/>
<rect x="578" y="393" width="1" height="2" fill="#a2a29a"/>
<rect x="581" y="393" width="1" height="2" fill="#a2a29a"/>
<rect x="584" y="393" width="1" height="2" fill="#a2a29a"/>
<rect x="586" y="393" width="1" height="2" fill="#a2a29a"/>
<rect x="589" y="393" width="1" height="4" fill="#6e6e66"/>
<rect x="592" y="393" width="1" height="2" fill="#a2a29a"/>
<rect x="595" y="393" width="1" height="2" fill="#a2a29a"/>
<rect x="598" y="393" width="1" height="2" fill="#a2a29a"/>
<rect x="601" y="393" width="1" height="2" fill="#a2a29a"/>
<rect x="604" y="393" width="1" height="4" fill="#6e6e66"/>
<rect x="606" y="393" width="1" height="2" fill="#a2a29a"/>
<rect x="609" y="393" width="1" height="2" fill="#a2a29a"/>
<rect x="612" y="393" width="1" height="2" fill="#a2a29a"/>
<rect x="615" y="393" width="1" height="2" fill="#a2a29a"/>
<rect x="618" y="393" width="1" height="4" fill="#6e6e66"/>
<rect x="621" y="393" width="1" height="2" fill="#a2a29a"/>
<rect x="623" y="393" width="1" height="2" fill="#a2a29a"/>
<rect x="626" y="393" width="1" height="2" fill="#a2a29a"/>
<rect x="629" y="393" width="1" height="2" fill="#a2a29a"/>
<rect x="632" y="393" width="1" height="4" fill="#6e6e66"/>
<rect x="635" y="393" width="1" height="2" fill="#a2a29a"/>
<rect x="638" y="393" width="1" height="2" fill="#a2a29a"/>
<rect x="641" y="393" width="1" height="2" fill="#a2a29a"/>
<rect x="643" y="393" width="1" height="2" fill="#a2a29a"/>
<rect x="646" y="393" width="1" height="4" fill="#6e6e66"/>
<rect x="649" y="393" width="1" height="2" fill="#a2a29a"/>
<rect x="652" y="393" width="1" height="2" fill="#a2a29a"/>
<rect x="655" y="393" width="1" height="2" fill="#a2a29a"/>
<rect x="658" y="393" width="1" height="2" fill="#a2a29a"/>
<rect x="660" y="393" width="1" height="4" fill="#6e6e66"/>
<rect x="663" y="393" width="1" height="2" fill="#a2a29a"/>
<rect x="666" y="393" width="1" height="2" fill="#a2a29a"/>
<rect x="669" y="393" width="1" height="2" fill="#a2a29a"/>
<rect x="672" y="393" width="1" height="2" fill="#a2a29a"/>
<rect x="675" y="393" width="1" height="4" fill="#6e6e66"/>
<rect x="678" y="393" width="1" height="2" fill="#a2a29a"/>
<rect x="680" y="393" width="1" height="2" fill="#a2a29a"/>
<rect x="683" y="393" width="1" height="2" fill="#a2a29a"/>
<rect x="686" y="393" width="1" height="2" fill="#a2a29a"/>
<rect x="689" y="393" width="1" height="4" fill="#6e6e66"/>
<rect x="692" y="393" width="1" height="2" fill="#a2a29a"/>
<rect x="695" y="393" width="1" height="2" fill="#a2a29a"/>
<rect x="698" y="393" width="1" height="2" fill="#a2a29a"/>
<rect x="700" y="393" width="1" height="2" fill="#a2a29a"/>
<rect x="703" y="393" width="1" height="4" fill="#6e6e66"/>
<polyline points="34.50,295.50 48.50,310.50 62.50,321.00 76.50,334.90 91.50,318.40 105.50,333.20 119.50,312.20 133.50,312.20 148.50,316.70 162.50,327.20 176.50,333.20 190.50,322.20 205.50,334.30 219.50,339.80 233.50,368.40 247.50,359.00 262.50,355.20 276.50,353.00 290.50,359.60 304.50,386.70 319.50,376.40 333.50,377.30 347.50,356.30 361.50,331.00 376.50,300.10 390.50,293.50 404.50,303.90 418.50,301.70 433.50,294.20 447.50,296.80 461.50,329.00 475.50,336.90 490.50,342.00 504.50,351.90 518.50,346.40 532.50,343.10 547.50,361.80 561.50,384.50 575.50,391.50 589.50,383.70 604.50,385.00 618.50,391.50 703.50,391.50" fill="none" stroke="#269026" stroke-width="1.1" stroke-linejoin="round" shape-rendering="auto"/>
<rect x="33" y="293" width="2" height="99" fill="#000"/>
<rect x="33" y="391" width="671" height="1" fill="#000"/>
<rect x="33" y="392" width="671" height="1" fill="#7a7a74"/>
<rect x="33" y="293" width="671" height="1" fill="#000"/>
<rect x="703" y="293" width="1" height="99" fill="#000"/>
<rect x="35" y="423" width="668" height="95" fill="#e8e8dc"/>
<rect x="35" y="423" width="668" height="1" fill="#f6f6f0"/>
<rect x="35" y="423" width="1" height="95" fill="#f6f6f0"/>
<rect x="702" y="423" width="1" height="95" fill="#f6f6f0"/>
<rect x="35" y="517" width="668" height="1" fill="#f6f6f0"/>
<text x="299.3" y="415.4" textLength="87.2" lengthAdjust="spacingAndGlyphs" font-family="'Liberation Sans', Arial, sans-serif" font-size="9.5" fill="#2424c0" stroke="#2424c0" stroke-width="0.2">Windrichtung (Grad)</text>
<path d="M48.5 423V518M62.5 423V518M76.5 423V518M91.5 423V518M105.5 423V518M119.5 423V518M133.5 423V518M148.5 423V518M162.5 423V518M176.5 423V518M190.5 423V518M205.5 423V518M219.5 423V518M233.5 423V518M247.5 423V518M262.5 423V518M276.5 423V518M290.5 423V518M304.5 423V518M319.5 423V518M333.5 423V518M347.5 423V518M361.5 423V518M376.5 423V518M390.5 423V518M404.5 423V518M418.5 423V518M433.5 423V518M447.5 423V518M461.5 423V518M475.5 423V518M490.5 423V518M504.5 423V518M518.5 423V518M532.5 423V518M547.5 423V518M561.5 423V518M575.5 423V518M589.5 423V518M604.5 423V518M618.5 423V518M632.5 423V518M646.5 423V518M660.5 423V518M675.5 423V518M689.5 423V518M35 433.5H703M35 448.5H703M35 463.5H703M35 478.5H703M35 493.5H703M35 508.5H703" stroke="#7a7a72" stroke-width="1" stroke-dasharray="3,2.3" fill="none" shape-rendering="auto"/>
<rect x="30" y="433" width="3" height="1" fill="#505048"/>
<text x="12.90 19.10 25.30" y="436.90" text-anchor="middle" font-family="'DejaVu Sans Condensed', 'DejaVu Sans', sans-serif" font-size="8.4" fill="#1c1c1c" stroke="#1c1c1c" stroke-width="0.45" >300</text>
<rect x="30" y="448" width="3" height="1" fill="#505048"/>
<text x="12.90 19.10 25.30" y="451.90" text-anchor="middle" font-family="'DejaVu Sans Condensed', 'DejaVu Sans', sans-serif" font-size="8.4" fill="#1c1c1c" stroke="#1c1c1c" stroke-width="0.45" >250</text>
<rect x="30" y="463" width="3" height="1" fill="#505048"/>
<text x="12.90 19.10 25.30" y="466.90" text-anchor="middle" font-family="'DejaVu Sans Condensed', 'DejaVu Sans', sans-serif" font-size="8.4" fill="#1c1c1c" stroke="#1c1c1c" stroke-width="0.45" >200</text>
<rect x="30" y="478" width="3" height="1" fill="#505048"/>
<text x="12.90 19.10 25.30" y="481.90" text-anchor="middle" font-family="'DejaVu Sans Condensed', 'DejaVu Sans', sans-serif" font-size="8.4" fill="#1c1c1c" stroke="#1c1c1c" stroke-width="0.45" >150</text>
<rect x="30" y="493" width="3" height="1" fill="#505048"/>
<text x="12.90 19.10 25.30" y="496.90" text-anchor="middle" font-family="'DejaVu Sans Condensed', 'DejaVu Sans', sans-serif" font-size="8.4" fill="#1c1c1c" stroke="#1c1c1c" stroke-width="0.45" >100</text>
<rect x="30" y="508" width="3" height="1" fill="#505048"/>
<text x="19.10 25.30" y="511.90" text-anchor="middle" font-family="'DejaVu Sans Condensed', 'DejaVu Sans', sans-serif" font-size="8.4" fill="#1c1c1c" stroke="#1c1c1c" stroke-width="0.45" >50</text>
<rect x="37" y="520" width="1" height="2" fill="#a2a29a"/>
<rect x="39" y="520" width="1" height="2" fill="#a2a29a"/>
<rect x="42" y="520" width="1" height="2" fill="#a2a29a"/>
<rect x="45" y="520" width="1" height="2" fill="#a2a29a"/>
<rect x="48" y="520" width="1" height="4" fill="#6e6e66"/>
<rect x="51" y="520" width="1" height="2" fill="#a2a29a"/>
<rect x="54" y="520" width="1" height="2" fill="#a2a29a"/>
<rect x="57" y="520" width="1" height="2" fill="#a2a29a"/>
<rect x="59" y="520" width="1" height="2" fill="#a2a29a"/>
<rect x="62" y="520" width="1" height="4" fill="#6e6e66"/>
<rect x="65" y="520" width="1" height="2" fill="#a2a29a"/>
<rect x="68" y="520" width="1" height="2" fill="#a2a29a"/>
<rect x="71" y="520" width="1" height="2" fill="#a2a29a"/>
<rect x="74" y="520" width="1" height="2" fill="#a2a29a"/>
<rect x="76" y="520" width="1" height="4" fill="#6e6e66"/>
<rect x="79" y="520" width="1" height="2" fill="#a2a29a"/>
<rect x="82" y="520" width="1" height="2" fill="#a2a29a"/>
<rect x="85" y="520" width="1" height="2" fill="#a2a29a"/>
<rect x="88" y="520" width="1" height="2" fill="#a2a29a"/>
<rect x="91" y="520" width="1" height="4" fill="#6e6e66"/>
<rect x="94" y="520" width="1" height="2" fill="#a2a29a"/>
<rect x="96" y="520" width="1" height="2" fill="#a2a29a"/>
<rect x="99" y="520" width="1" height="2" fill="#a2a29a"/>
<rect x="102" y="520" width="1" height="2" fill="#a2a29a"/>
<rect x="105" y="520" width="1" height="4" fill="#6e6e66"/>
<rect x="108" y="520" width="1" height="2" fill="#a2a29a"/>
<rect x="111" y="520" width="1" height="2" fill="#a2a29a"/>
<rect x="114" y="520" width="1" height="2" fill="#a2a29a"/>
<rect x="116" y="520" width="1" height="2" fill="#a2a29a"/>
<rect x="119" y="520" width="1" height="4" fill="#6e6e66"/>
<rect x="122" y="520" width="1" height="2" fill="#a2a29a"/>
<rect x="125" y="520" width="1" height="2" fill="#a2a29a"/>
<rect x="128" y="520" width="1" height="2" fill="#a2a29a"/>
<rect x="131" y="520" width="1" height="2" fill="#a2a29a"/>
<rect x="133" y="520" width="1" height="4" fill="#6e6e66"/>
<rect x="136" y="520" width="1" height="2" fill="#a2a29a"/>
<rect x="139" y="520" width="1" height="2" fill="#a2a29a"/>
<rect x="142" y="520" width="1" height="2" fill="#a2a29a"/>
<rect x="145" y="520" width="1" height="2" fill="#a2a29a"/>
<rect x="148" y="520" width="1" height="4" fill="#6e6e66"/>
<rect x="151" y="520" width="1" height="2" fill="#a2a29a"/>
<rect x="153" y="520" width="1" height="2" fill="#a2a29a"/>
<rect x="156" y="520" width="1" height="2" fill="#a2a29a"/>
<rect x="159" y="520" width="1" height="2" fill="#a2a29a"/>
<rect x="162" y="520" width="1" height="4" fill="#6e6e66"/>
<rect x="165" y="520" width="1" height="2" fill="#a2a29a"/>
<rect x="168" y="520" width="1" height="2" fill="#a2a29a"/>
<rect x="171" y="520" width="1" height="2" fill="#a2a29a"/>
<rect x="173" y="520" width="1" height="2" fill="#a2a29a"/>
<rect x="176" y="520" width="1" height="4" fill="#6e6e66"/>
<rect x="179" y="520" width="1" height="2" fill="#a2a29a"/>
<rect x="182" y="520" width="1" height="2" fill="#a2a29a"/>
<rect x="185" y="520" width="1" height="2" fill="#a2a29a"/>
<rect x="188" y="520" width="1" height="2" fill="#a2a29a"/>
<rect x="190" y="520" width="1" height="4" fill="#6e6e66"/>
<rect x="193" y="520" width="1" height="2" fill="#a2a29a"/>
<rect x="196" y="520" width="1" height="2" fill="#a2a29a"/>
<rect x="199" y="520" width="1" height="2" fill="#a2a29a"/>
<rect x="202" y="520" width="1" height="2" fill="#a2a29a"/>
<rect x="205" y="520" width="1" height="4" fill="#6e6e66"/>
<rect x="208" y="520" width="1" height="2" fill="#a2a29a"/>
<rect x="210" y="520" width="1" height="2" fill="#a2a29a"/>
<rect x="213" y="520" width="1" height="2" fill="#a2a29a"/>
<rect x="216" y="520" width="1" height="2" fill="#a2a29a"/>
<rect x="219" y="520" width="1" height="4" fill="#6e6e66"/>
<rect x="222" y="520" width="1" height="2" fill="#a2a29a"/>
<rect x="225" y="520" width="1" height="2" fill="#a2a29a"/>
<rect x="227" y="520" width="1" height="2" fill="#a2a29a"/>
<rect x="230" y="520" width="1" height="2" fill="#a2a29a"/>
<rect x="233" y="520" width="1" height="4" fill="#6e6e66"/>
<rect x="236" y="520" width="1" height="2" fill="#a2a29a"/>
<rect x="239" y="520" width="1" height="2" fill="#a2a29a"/>
<rect x="242" y="520" width="1" height="2" fill="#a2a29a"/>
<rect x="245" y="520" width="1" height="2" fill="#a2a29a"/>
<rect x="247" y="520" width="1" height="4" fill="#6e6e66"/>
<rect x="250" y="520" width="1" height="2" fill="#a2a29a"/>
<rect x="253" y="520" width="1" height="2" fill="#a2a29a"/>
<rect x="256" y="520" width="1" height="2" fill="#a2a29a"/>
<rect x="259" y="520" width="1" height="2" fill="#a2a29a"/>
<rect x="262" y="520" width="1" height="4" fill="#6e6e66"/>
<rect x="265" y="520" width="1" height="2" fill="#a2a29a"/>
<rect x="267" y="520" width="1" height="2" fill="#a2a29a"/>
<rect x="270" y="520" width="1" height="2" fill="#a2a29a"/>
<rect x="273" y="520" width="1" height="2" fill="#a2a29a"/>
<rect x="276" y="520" width="1" height="4" fill="#6e6e66"/>
<rect x="279" y="520" width="1" height="2" fill="#a2a29a"/>
<rect x="282" y="520" width="1" height="2" fill="#a2a29a"/>
<rect x="284" y="520" width="1" height="2" fill="#a2a29a"/>
<rect x="287" y="520" width="1" height="2" fill="#a2a29a"/>
<rect x="290" y="520" width="1" height="4" fill="#6e6e66"/>
<rect x="293" y="520" width="1" height="2" fill="#a2a29a"/>
<rect x="296" y="520" width="1" height="2" fill="#a2a29a"/>
<rect x="299" y="520" width="1" height="2" fill="#a2a29a"/>
<rect x="302" y="520" width="1" height="2" fill="#a2a29a"/>
<rect x="304" y="520" width="1" height="4" fill="#6e6e66"/>
<rect x="307" y="520" width="1" height="2" fill="#a2a29a"/>
<rect x="310" y="520" width="1" height="2" fill="#a2a29a"/>
<rect x="313" y="520" width="1" height="2" fill="#a2a29a"/>
<rect x="316" y="520" width="1" height="2" fill="#a2a29a"/>
<rect x="319" y="520" width="1" height="4" fill="#6e6e66"/>
<rect x="321" y="520" width="1" height="2" fill="#a2a29a"/>
<rect x="324" y="520" width="1" height="2" fill="#a2a29a"/>
<rect x="327" y="520" width="1" height="2" fill="#a2a29a"/>
<rect x="330" y="520" width="1" height="2" fill="#a2a29a"/>
<rect x="333" y="520" width="1" height="4" fill="#6e6e66"/>
<rect x="336" y="520" width="1" height="2" fill="#a2a29a"/>
<rect x="339" y="520" width="1" height="2" fill="#a2a29a"/>
<rect x="341" y="520" width="1" height="2" fill="#a2a29a"/>
<rect x="344" y="520" width="1" height="2" fill="#a2a29a"/>
<rect x="347" y="520" width="1" height="4" fill="#6e6e66"/>
<rect x="350" y="520" width="1" height="2" fill="#a2a29a"/>
<rect x="353" y="520" width="1" height="2" fill="#a2a29a"/>
<rect x="356" y="520" width="1" height="2" fill="#a2a29a"/>
<rect x="359" y="520" width="1" height="2" fill="#a2a29a"/>
<rect x="361" y="520" width="1" height="4" fill="#6e6e66"/>
<rect x="364" y="520" width="1" height="2" fill="#a2a29a"/>
<rect x="367" y="520" width="1" height="2" fill="#a2a29a"/>
<rect x="370" y="520" width="1" height="2" fill="#a2a29a"/>
<rect x="373" y="520" width="1" height="2" fill="#a2a29a"/>
<rect x="376" y="520" width="1" height="4" fill="#6e6e66"/>
<rect x="378" y="520" width="1" height="2" fill="#a2a29a"/>
<rect x="381" y="520" width="1" height="2" fill="#a2a29a"/>
<rect x="384" y="520" width="1" height="2" fill="#a2a29a"/>
<rect x="387" y="520" width="1" height="2" fill="#a2a29a"/>
<rect x="390" y="520" width="1" height="4" fill="#6e6e66"/>
<rect x="393" y="520" width="1" height="2" fill="#a2a29a"/>
<rect x="396" y="520" width="1" height="2" fill="#a2a29a"/>
<rect x="398" y="520" width="1" height="2" fill="#a2a29a"/>
<rect x="401" y="520" width="1" height="2" fill="#a2a29a"/>
<rect x="404" y="520" width="1" height="4" fill="#6e6e66"/>
<rect x="407" y="520" width="1" height="2" fill="#a2a29a"/>
<rect x="410" y="520" width="1" height="2" fill="#a2a29a"/>
<rect x="413" y="520" width="1" height="2" fill="#a2a29a"/>
<rect x="415" y="520" width="1" height="2" fill="#a2a29a"/>
<rect x="418" y="520" width="1" height="4" fill="#6e6e66"/>
<rect x="421" y="520" width="1" height="2" fill="#a2a29a"/>
<rect x="424" y="520" width="1" height="2" fill="#a2a29a"/>
<rect x="427" y="520" width="1" height="2" fill="#a2a29a"/>
<rect x="430" y="520" width="1" height="2" fill="#a2a29a"/>
<rect x="433" y="520" width="1" height="4" fill="#6e6e66"/>
<rect x="435" y="520" width="1" height="2" fill="#a2a29a"/>
<rect x="438" y="520" width="1" height="2" fill="#a2a29a"/>
<rect x="441" y="520" width="1" height="2" fill="#a2a29a"/>
<rect x="444" y="520" width="1" height="2" fill="#a2a29a"/>
<rect x="447" y="520" width="1" height="4" fill="#6e6e66"/>
<rect x="450" y="520" width="1" height="2" fill="#a2a29a"/>
<rect x="453" y="520" width="1" height="2" fill="#a2a29a"/>
<rect x="455" y="520" width="1" height="2" fill="#a2a29a"/>
<rect x="458" y="520" width="1" height="2" fill="#a2a29a"/>
<rect x="461" y="520" width="1" height="4" fill="#6e6e66"/>
<rect x="464" y="520" width="1" height="2" fill="#a2a29a"/>
<rect x="467" y="520" width="1" height="2" fill="#a2a29a"/>
<rect x="470" y="520" width="1" height="2" fill="#a2a29a"/>
<rect x="472" y="520" width="1" height="2" fill="#a2a29a"/>
<rect x="475" y="520" width="1" height="4" fill="#6e6e66"/>
<rect x="478" y="520" width="1" height="2" fill="#a2a29a"/>
<rect x="481" y="520" width="1" height="2" fill="#a2a29a"/>
<rect x="484" y="520" width="1" height="2" fill="#a2a29a"/>
<rect x="487" y="520" width="1" height="2" fill="#a2a29a"/>
<rect x="490" y="520" width="1" height="4" fill="#6e6e66"/>
<rect x="492" y="520" width="1" height="2" fill="#a2a29a"/>
<rect x="495" y="520" width="1" height="2" fill="#a2a29a"/>
<rect x="498" y="520" width="1" height="2" fill="#a2a29a"/>
<rect x="501" y="520" width="1" height="2" fill="#a2a29a"/>
<rect x="504" y="520" width="1" height="4" fill="#6e6e66"/>
<rect x="507" y="520" width="1" height="2" fill="#a2a29a"/>
<rect x="510" y="520" width="1" height="2" fill="#a2a29a"/>
<rect x="512" y="520" width="1" height="2" fill="#a2a29a"/>
<rect x="515" y="520" width="1" height="2" fill="#a2a29a"/>
<rect x="518" y="520" width="1" height="4" fill="#6e6e66"/>
<rect x="521" y="520" width="1" height="2" fill="#a2a29a"/>
<rect x="524" y="520" width="1" height="2" fill="#a2a29a"/>
<rect x="527" y="520" width="1" height="2" fill="#a2a29a"/>
<rect x="529" y="520" width="1" height="2" fill="#a2a29a"/>
<rect x="532" y="520" width="1" height="4" fill="#6e6e66"/>
<rect x="535" y="520" width="1" height="2" fill="#a2a29a"/>
<rect x="538" y="520" width="1" height="2" fill="#a2a29a"/>
<rect x="541" y="520" width="1" height="2" fill="#a2a29a"/>
<rect x="544" y="520" width="1" height="2" fill="#a2a29a"/>
<rect x="547" y="520" width="1" height="4" fill="#6e6e66"/>
<rect x="549" y="520" width="1" height="2" fill="#a2a29a"/>
<rect x="552" y="520" width="1" height="2" fill="#a2a29a"/>
<rect x="555" y="520" width="1" height="2" fill="#a2a29a"/>
<rect x="558" y="520" width="1" height="2" fill="#a2a29a"/>
<rect x="561" y="520" width="1" height="4" fill="#6e6e66"/>
<rect x="564" y="520" width="1" height="2" fill="#a2a29a"/>
<rect x="566" y="520" width="1" height="2" fill="#a2a29a"/>
<rect x="569" y="520" width="1" height="2" fill="#a2a29a"/>
<rect x="572" y="520" width="1" height="2" fill="#a2a29a"/>
<rect x="575" y="520" width="1" height="4" fill="#6e6e66"/>
<rect x="578" y="520" width="1" height="2" fill="#a2a29a"/>
<rect x="581" y="520" width="1" height="2" fill="#a2a29a"/>
<rect x="584" y="520" width="1" height="2" fill="#a2a29a"/>
<rect x="586" y="520" width="1" height="2" fill="#a2a29a"/>
<rect x="589" y="520" width="1" height="4" fill="#6e6e66"/>
<rect x="592" y="520" width="1" height="2" fill="#a2a29a"/>
<rect x="595" y="520" width="1" height="2" fill="#a2a29a"/>
<rect x="598" y="520" width="1" height="2" fill="#a2a29a"/>
<rect x="601" y="520" width="1" height="2" fill="#a2a29a"/>
<rect x="604" y="520" width="1" height="4" fill="#6e6e66"/>
<rect x="606" y="520" width="1" height="2" fill="#a2a29a"/>
<rect x="609" y="520" width="1" height="2" fill="#a2a29a"/>
<rect x="612" y="520" width="1" height="2" fill="#a2a29a"/>
<rect x="615" y="520" width="1" height="2" fill="#a2a29a"/>
<rect x="618" y="520" width="1" height="4" fill="#6e6e66"/>
<rect x="621" y="520" width="1" height="2" fill="#a2a29a"/>
<rect x="623" y="520" width="1" height="2" fill="#a2a29a"/>
<rect x="626" y="520" width="1" height="2" fill="#a2a29a"/>
<rect x="629" y="520" width="1" height="2" fill="#a2a29a"/>
<rect x="632" y="520" width="1" height="4" fill="#6e6e66"/>
<rect x="635" y="520" width="1" height="2" fill="#a2a29a"/>
<rect x="638" y="520" width="1" height="2" fill="#a2a29a"/>
<rect x="641" y="520" width="1" height="2" fill="#a2a29a"/>
<rect x="643" y="520" width="1" height="2" fill="#a2a29a"/>
<rect x="646" y="520" width="1" height="4" fill="#6e6e66"/>
<rect x="649" y="520" width="1" height="2" fill="#a2a29a"/>
<rect x="652" y="520" width="1" height="2" fill="#a2a29a"/>
<rect x="655" y="520" width="1" height="2" fill="#a2a29a"/>
<rect x="658" y="520" width="1" height="2" fill="#a2a29a"/>
<rect x="660" y="520" width="1" height="4" fill="#6e6e66"/>
<rect x="663" y="520" width="1" height="2" fill="#a2a29a"/>
<rect x="666" y="520" width="1" height="2" fill="#a2a29a"/>
<rect x="669" y="520" width="1" height="2" fill="#a2a29a"/>
<rect x="672" y="520" width="1" height="2" fill="#a2a29a"/>
<rect x="675" y="520" width="1" height="4" fill="#6e6e66"/>
<rect x="678" y="520" width="1" height="2" fill="#a2a29a"/>
<rect x="680" y="520" width="1" height="2" fill="#a2a29a"/>
<rect x="683" y="520" width="1" height="2" fill="#a2a29a"/>
<rect x="686" y="520" width="1" height="2" fill="#a2a29a"/>
<rect x="689" y="520" width="1" height="4" fill="#6e6e66"/>
<rect x="692" y="520" width="1" height="2" fill="#a2a29a"/>
<rect x="695" y="520" width="1" height="2" fill="#a2a29a"/>
<rect x="698" y="520" width="1" height="2" fill="#a2a29a"/>
<rect x="700" y="520" width="1" height="2" fill="#a2a29a"/>
<rect x="703" y="520" width="1" height="4" fill="#6e6e66"/>
<polyline points="34.50,451.70 48.50,453.00 62.50,448.60 76.50,432.10 91.50,429.90 105.50,436.90 119.50,443.50 133.50,431.00 148.50,429.90 162.50,442.00 176.50,445.20 190.50,428.80 205.50,430.80 219.50,429.90 233.50,454.60 247.50,454.60 262.50,451.90 276.50,443.10 290.50,425.50 304.50,424.40 319.50,432.20 333.50,436.90 347.50,450.20 361.50,429.70 376.50,425.30 390.50,423.70 404.50,423.70 418.50,423.30 433.50,423.30 447.50,423.70 461.50,425.00 475.50,427.00 490.50,428.10 504.50,442.40 518.50,426.60 532.50,424.20 547.50,423.00 561.50,423.00 575.50,492.00 589.50,487.20 604.50,494.50 618.50,513.00 632.50,481.00 646.50,481.00 660.50,511.90 675.50,515.20 689.50,518.50 703.50,517.40" fill="none" stroke="#269026" stroke-width="1.1" stroke-linejoin="round" shape-rendering="auto"/>
<rect x="33" y="422" width="2" height="97" fill="#000"/>
<rect x="33" y="518" width="671" height="1" fill="#000"/>
<rect x="33" y="519" width="671" height="1" fill="#7a7a74"/>
<rect x="33" y="422" width="671" height="1" fill="#000"/>
<rect x="703" y="422" width="1" height="97" fill="#000"/>
<rect x="0" y="145" width="724" height="1" fill="#bcbcb0"/>
<rect x="0" y="146" width="724" height="1" fill="#f2f2ea"/>
<rect x="0" y="271" width="724" height="1" fill="#bcbcb0"/>
<rect x="0" y="272" width="724" height="1" fill="#f2f2ea"/>
<rect x="0" y="398" width="724" height="1" fill="#bcbcb0"/>
<rect x="0" y="399" width="724" height="1" fill="#f2f2ea"/>
<g transform="translate(51.18,0) rotate(-90)"><text x="-551.40 -545.33 -539.26 -533.19 -527.12" y="0.00" text-anchor="middle" font-family="'DejaVu Sans Condensed', 'DejaVu Sans', sans-serif" font-size="8.4" fill="#222222" stroke="#222222" stroke-width="0.32" >00:30</text></g>
<g transform="translate(65.18,0) rotate(-90)"><text x="-551.40 -545.33 -539.26 -533.19 -527.12" y="0.00" text-anchor="middle" font-family="'DejaVu Sans Condensed', 'DejaVu Sans', sans-serif" font-size="8.4" fill="#222222" stroke="#222222" stroke-width="0.32" >01:00</text></g>
<g transform="translate(79.18,0) rotate(-90)"><text x="-551.40 -545.33 -539.26 -533.19 -527.12" y="0.00" text-anchor="middle" font-family="'DejaVu Sans Condensed', 'DejaVu Sans', sans-serif" font-size="8.4" fill="#222222" stroke="#222222" stroke-width="0.32" >01:30</text></g>
<g transform="translate(94.18,0) rotate(-90)"><text x="-551.40 -545.33 -539.26 -533.19 -527.12" y="0.00" text-anchor="middle" font-family="'DejaVu Sans Condensed', 'DejaVu Sans', sans-serif" font-size="8.4" fill="#222222" stroke="#222222" stroke-width="0.32" >02:00</text></g>
<g transform="translate(108.18,0) rotate(-90)"><text x="-551.40 -545.33 -539.26 -533.19 -527.12" y="0.00" text-anchor="middle" font-family="'DejaVu Sans Condensed', 'DejaVu Sans', sans-serif" font-size="8.4" fill="#222222" stroke="#222222" stroke-width="0.32" >02:30</text></g>
<g transform="translate(122.18,0) rotate(-90)"><text x="-551.40 -545.33 -539.26 -533.19 -527.12" y="0.00" text-anchor="middle" font-family="'DejaVu Sans Condensed', 'DejaVu Sans', sans-serif" font-size="8.4" fill="#222222" stroke="#222222" stroke-width="0.32" >03:00</text></g>
<g transform="translate(136.18,0) rotate(-90)"><text x="-551.40 -545.33 -539.26 -533.19 -527.12" y="0.00" text-anchor="middle" font-family="'DejaVu Sans Condensed', 'DejaVu Sans', sans-serif" font-size="8.4" fill="#222222" stroke="#222222" stroke-width="0.32" >03:30</text></g>
<g transform="translate(151.18,0) rotate(-90)"><text x="-551.40 -545.33 -539.26 -533.19 -527.12" y="0.00" text-anchor="middle" font-family="'DejaVu Sans Condensed', 'DejaVu Sans', sans-serif" font-size="8.4" fill="#222222" stroke="#222222" stroke-width="0.32" >04:00</text></g>
<g transform="translate(165.18,0) rotate(-90)"><text x="-551.40 -545.33 -539.26 -533.19 -527.12" y="0.00" text-anchor="middle" font-family="'DejaVu Sans Condensed', 'DejaVu Sans', sans-serif" font-size="8.4" fill="#222222" stroke="#222222" stroke-width="0.32" >04:30</text></g>
<g transform="translate(179.18,0) rotate(-90)"><text x="-551.40 -545.33 -539.26 -533.19 -527.12" y="0.00" text-anchor="middle" font-family="'DejaVu Sans Condensed', 'DejaVu Sans', sans-serif" font-size="8.4" fill="#222222" stroke="#222222" stroke-width="0.32" >05:00</text></g>
<g transform="translate(193.18,0) rotate(-90)"><text x="-551.40 -545.33 -539.26 -533.19 -527.12" y="0.00" text-anchor="middle" font-family="'DejaVu Sans Condensed', 'DejaVu Sans', sans-serif" font-size="8.4" fill="#222222" stroke="#222222" stroke-width="0.32" >05:30</text></g>
<g transform="translate(208.18,0) rotate(-90)"><text x="-551.40 -545.33 -539.26 -533.19 -527.12" y="0.00" text-anchor="middle" font-family="'DejaVu Sans Condensed', 'DejaVu Sans', sans-serif" font-size="8.4" fill="#222222" stroke="#222222" stroke-width="0.32" >06:00</text></g>
<g transform="translate(222.18,0) rotate(-90)"><text x="-551.40 -545.33 -539.26 -533.19 -527.12" y="0.00" text-anchor="middle" font-family="'DejaVu Sans Condensed', 'DejaVu Sans', sans-serif" font-size="8.4" fill="#222222" stroke="#222222" stroke-width="0.32" >06:30</text></g>
<g transform="translate(236.18,0) rotate(-90)"><text x="-551.40 -545.33 -539.26 -533.19 -527.12" y="0.00" text-anchor="middle" font-family="'DejaVu Sans Condensed', 'DejaVu Sans', sans-serif" font-size="8.4" fill="#222222" stroke="#222222" stroke-width="0.32" >07:00</text></g>
<g transform="translate(250.18,0) rotate(-90)"><text x="-551.40 -545.33 -539.26 -533.19 -527.12" y="0.00" text-anchor="middle" font-family="'DejaVu Sans Condensed', 'DejaVu Sans', sans-serif" font-size="8.4" fill="#222222" stroke="#222222" stroke-width="0.32" >07:30</text></g>
<g transform="translate(265.18,0) rotate(-90)"><text x="-551.40 -545.33 -539.26 -533.19 -527.12" y="0.00" text-anchor="middle" font-family="'DejaVu Sans Condensed', 'DejaVu Sans', sans-serif" font-size="8.4" fill="#222222" stroke="#222222" stroke-width="0.32" >08:00</text></g>
<g transform="translate(279.18,0) rotate(-90)"><text x="-551.40 -545.33 -539.26 -533.19 -527.12" y="0.00" text-anchor="middle" font-family="'DejaVu Sans Condensed', 'DejaVu Sans', sans-serif" font-size="8.4" fill="#222222" stroke="#222222" stroke-width="0.32" >08:30</text></g>
<g transform="translate(293.18,0) rotate(-90)"><text x="-551.40 -545.33 -539.26 -533.19 -527.12" y="0.00" text-anchor="middle" font-family="'DejaVu Sans Condensed', 'DejaVu Sans', sans-serif" font-size="8.4" fill="#222222" stroke="#222222" stroke-width="0.32" >09:00</text></g>
<g transform="translate(307.18,0) rotate(-90)"><text x="-551.40 -545.33 -539.26 -533.19 -527.12" y="0.00" text-anchor="middle" font-family="'DejaVu Sans Condensed', 'DejaVu Sans', sans-serif" font-size="8.4" fill="#222222" stroke="#222222" stroke-width="0.32" >09:30</text></g>
<g transform="translate(322.18,0) rotate(-90)"><text x="-551.40 -545.33 -539.26 -533.19 -527.12" y="0.00" text-anchor="middle" font-family="'DejaVu Sans Condensed', 'DejaVu Sans', sans-serif" font-size="8.4" fill="#222222" stroke="#222222" stroke-width="0.32" >10:00</text></g>
<g transform="translate(336.18,0) rotate(-90)"><text x="-551.40 -545.33 -539.26 -533.19 -527.12" y="0.00" text-anchor="middle" font-family="'DejaVu Sans Condensed', 'DejaVu Sans', sans-serif" font-size="8.4" fill="#222222" stroke="#222222" stroke-width="0.32" >10:30</text></g>
<g transform="translate(350.18,0) rotate(-90)"><text x="-551.40 -545.33 -539.26 -533.19 -527.12" y="0.00" text-anchor="middle" font-family="'DejaVu Sans Condensed', 'DejaVu Sans', sans-serif" font-size="8.4" fill="#222222" stroke="#222222" stroke-width="0.32" >11:00</text></g>
<g transform="translate(364.18,0) rotate(-90)"><text x="-551.40 -545.33 -539.26 -533.19 -527.12" y="0.00" text-anchor="middle" font-family="'DejaVu Sans Condensed', 'DejaVu Sans', sans-serif" font-size="8.4" fill="#222222" stroke="#222222" stroke-width="0.32" >11:30</text></g>
<g transform="translate(379.18,0) rotate(-90)"><text x="-551.40 -545.33 -539.26 -533.19 -527.12" y="0.00" text-anchor="middle" font-family="'DejaVu Sans Condensed', 'DejaVu Sans', sans-serif" font-size="8.4" fill="#222222" stroke="#222222" stroke-width="0.32" >12:00</text></g>
<g transform="translate(393.18,0) rotate(-90)"><text x="-551.40 -545.33 -539.26 -533.19 -527.12" y="0.00" text-anchor="middle" font-family="'DejaVu Sans Condensed', 'DejaVu Sans', sans-serif" font-size="8.4" fill="#222222" stroke="#222222" stroke-width="0.32" >12:30</text></g>
<g transform="translate(407.18,0) rotate(-90)"><text x="-551.40 -545.33 -539.26 -533.19 -527.12" y="0.00" text-anchor="middle" font-family="'DejaVu Sans Condensed', 'DejaVu Sans', sans-serif" font-size="8.4" fill="#222222" stroke="#222222" stroke-width="0.32" >13:00</text></g>
<g transform="translate(421.18,0) rotate(-90)"><text x="-551.40 -545.33 -539.26 -533.19 -527.12" y="0.00" text-anchor="middle" font-family="'DejaVu Sans Condensed', 'DejaVu Sans', sans-serif" font-size="8.4" fill="#222222" stroke="#222222" stroke-width="0.32" >13:30</text></g>
<g transform="translate(436.18,0) rotate(-90)"><text x="-551.40 -545.33 -539.26 -533.19 -527.12" y="0.00" text-anchor="middle" font-family="'DejaVu Sans Condensed', 'DejaVu Sans', sans-serif" font-size="8.4" fill="#222222" stroke="#222222" stroke-width="0.32" >14:00</text></g>
<g transform="translate(450.18,0) rotate(-90)"><text x="-551.40 -545.33 -539.26 -533.19 -527.12" y="0.00" text-anchor="middle" font-family="'DejaVu Sans Condensed', 'DejaVu Sans', sans-serif" font-size="8.4" fill="#222222" stroke="#222222" stroke-width="0.32" >14:30</text></g>
<g transform="translate(464.18,0) rotate(-90)"><text x="-551.40 -545.33 -539.26 -533.19 -527.12" y="0.00" text-anchor="middle" font-family="'DejaVu Sans Condensed', 'DejaVu Sans', sans-serif" font-size="8.4" fill="#222222" stroke="#222222" stroke-width="0.32" >15:00</text></g>
<g transform="translate(478.18,0) rotate(-90)"><text x="-551.40 -545.33 -539.26 -533.19 -527.12" y="0.00" text-anchor="middle" font-family="'DejaVu Sans Condensed', 'DejaVu Sans', sans-serif" font-size="8.4" fill="#222222" stroke="#222222" stroke-width="0.32" >15:30</text></g>
<g transform="translate(493.18,0) rotate(-90)"><text x="-551.40 -545.33 -539.26 -533.19 -527.12" y="0.00" text-anchor="middle" font-family="'DejaVu Sans Condensed', 'DejaVu Sans', sans-serif" font-size="8.4" fill="#222222" stroke="#222222" stroke-width="0.32" >16:00</text></g>
<g transform="translate(507.18,0) rotate(-90)"><text x="-551.40 -545.33 -539.26 -533.19 -527.12" y="0.00" text-anchor="middle" font-family="'DejaVu Sans Condensed', 'DejaVu Sans', sans-serif" font-size="8.4" fill="#222222" stroke="#222222" stroke-width="0.32" >16:30</text></g>
<g transform="translate(521.18,0) rotate(-90)"><text x="-551.40 -545.33 -539.26 -533.19 -527.12" y="0.00" text-anchor="middle" font-family="'DejaVu Sans Condensed', 'DejaVu Sans', sans-serif" font-size="8.4" fill="#222222" stroke="#222222" stroke-width="0.32" >17:00</text></g>
<g transform="translate(535.18,0) rotate(-90)"><text x="-551.40 -545.33 -539.26 -533.19 -527.12" y="0.00" text-anchor="middle" font-family="'DejaVu Sans Condensed', 'DejaVu Sans', sans-serif" font-size="8.4" fill="#222222" stroke="#222222" stroke-width="0.32" >17:30</text></g>
<g transform="translate(550.18,0) rotate(-90)"><text x="-551.40 -545.33 -539.26 -533.19 -527.12" y="0.00" text-anchor="middle" font-family="'DejaVu Sans Condensed', 'DejaVu Sans', sans-serif" font-size="8.4" fill="#222222" stroke="#222222" stroke-width="0.32" >18:00</text></g>
<g transform="translate(564.18,0) rotate(-90)"><text x="-551.40 -545.33 -539.26 -533.19 -527.12" y="0.00" text-anchor="middle" font-family="'DejaVu Sans Condensed', 'DejaVu Sans', sans-serif" font-size="8.4" fill="#222222" stroke="#222222" stroke-width="0.32" >18:30</text></g>
<g transform="translate(578.18,0) rotate(-90)"><text x="-551.40 -545.33 -539.26 -533.19 -527.12" y="0.00" text-anchor="middle" font-family="'DejaVu Sans Condensed', 'DejaVu Sans', sans-serif" font-size="8.4" fill="#222222" stroke="#222222" stroke-width="0.32" >19:00</text></g>
<g transform="translate(592.18,0) rotate(-90)"><text x="-551.40 -545.33 -539.26 -533.19 -527.12" y="0.00" text-anchor="middle" font-family="'DejaVu Sans Condensed', 'DejaVu Sans', sans-serif" font-size="8.4" fill="#222222" stroke="#222222" stroke-width="0.32" >19:30</text></g>
<g transform="translate(607.18,0) rotate(-90)"><text x="-551.40 -545.33 -539.26 -533.19 -527.12" y="0.00" text-anchor="middle" font-family="'DejaVu Sans Condensed', 'DejaVu Sans', sans-serif" font-size="8.4" fill="#222222" stroke="#222222" stroke-width="0.32" >20:00</text></g>
<g transform="translate(621.18,0) rotate(-90)"><text x="-551.40 -545.33 -539.26 -533.19 -527.12" y="0.00" text-anchor="middle" font-family="'DejaVu Sans Condensed', 'DejaVu Sans', sans-serif" font-size="8.4" fill="#222222" stroke="#222222" stroke-width="0.32" >20:30</text></g>
<g transform="translate(635.18,0) rotate(-90)"><text x="-551.40 -545.33 -539.26 -533.19 -527.12" y="0.00" text-anchor="middle" font-family="'DejaVu Sans Condensed', 'DejaVu Sans', sans-serif" font-size="8.4" fill="#222222" stroke="#222222" stroke-width="0.32" >21:00</text></g>
<g transform="translate(649.18,0) rotate(-90)"><text x="-551.40 -545.33 -539.26 -533.19 -527.12" y="0.00" text-anchor="middle" font-family="'DejaVu Sans Condensed', 'DejaVu Sans', sans-serif" font-size="8.4" fill="#222222" stroke="#222222" stroke-width="0.32" >21:30</text></g>
<g transform="translate(663.18,0) rotate(-90)"><text x="-551.40 -545.33 -539.26 -533.19 -527.12" y="0.00" text-anchor="middle" font-family="'DejaVu Sans Condensed', 'DejaVu Sans', sans-serif" font-size="8.4" fill="#222222" stroke="#222222" stroke-width="0.32" >22:00</text></g>
<g transform="translate(678.18,0) rotate(-90)"><text x="-551.40 -545.33 -539.26 -533.19 -527.12" y="0.00" text-anchor="middle" font-family="'DejaVu Sans Condensed', 'DejaVu Sans', sans-serif" font-size="8.4" fill="#222222" stroke="#222222" stroke-width="0.32" >22:30</text></g>
<g transform="translate(692.18,0) rotate(-90)"><text x="-551.40 -545.33 -539.26 -533.19 -527.12" y="0.00" text-anchor="middle" font-family="'DejaVu Sans Condensed', 'DejaVu Sans', sans-serif" font-size="8.4" fill="#222222" stroke="#222222" stroke-width="0.32" >23:00</text></g>
<g transform="translate(706.18,0) rotate(-90)"><text x="-551.40 -545.33 -539.26 -533.19 -527.12" y="0.00" text-anchor="middle" font-family="'DejaVu Sans Condensed', 'DejaVu Sans', sans-serif" font-size="8.4" fill="#222222" stroke="#222222" stroke-width="0.32" >23:30</text></g>
</svg>
</body></html>
